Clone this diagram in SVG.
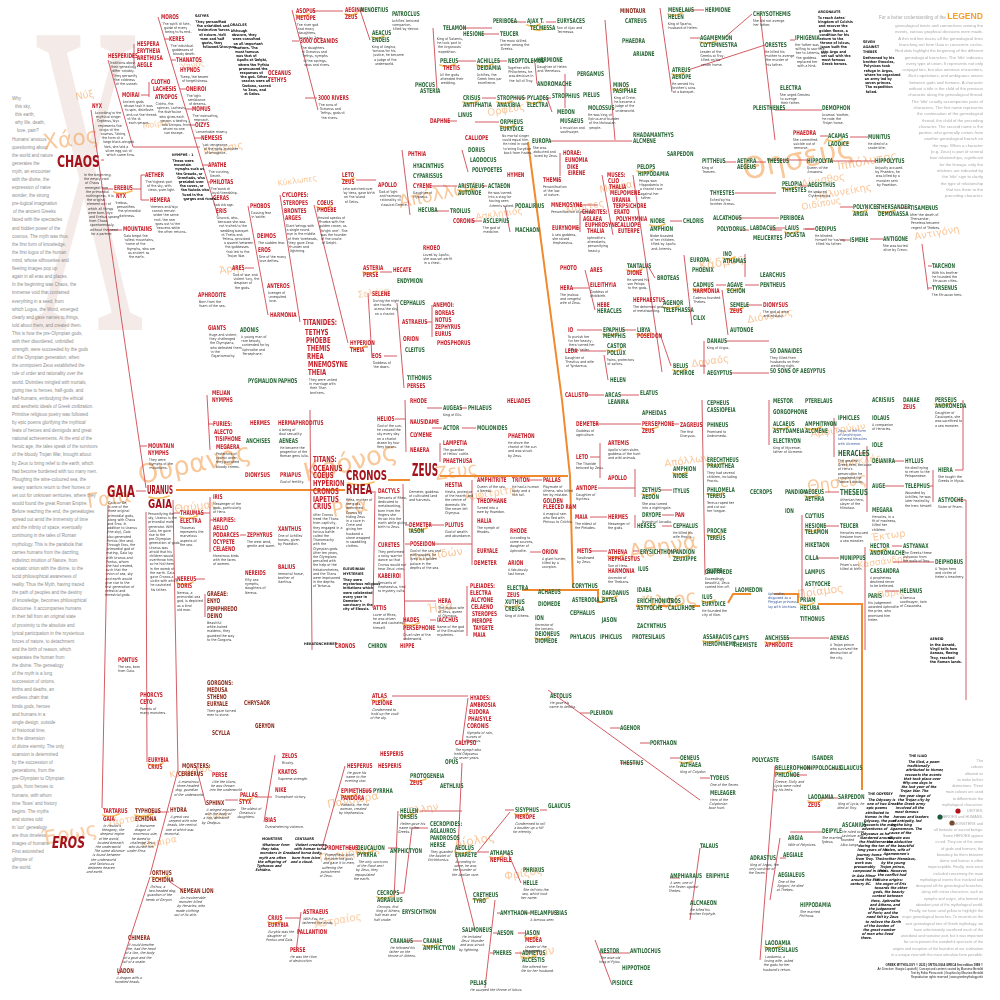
<svg xmlns="http://www.w3.org/2000/svg" width="1000" height="1000" viewBox="0 0 1000 1000">
<defs>
<style>
.n{font-family:"Liberation Sans Narrow","DejaVu Sans Condensed","Liberation Sans",sans-serif;font-weight:700;font-size:6.6px;transform-box:fill-box;transform-origin:0 0;transform:scaleX(.72)}
.n2{font-family:"Liberation Sans Narrow","DejaVu Sans Condensed","Liberation Sans",sans-serif;font-weight:700;font-size:8.4px;transform-box:fill-box;transform-origin:0 0;transform:scaleX(.72)}
.r{fill:#c8232c}
.g{fill:#2c6a3a}
.m{fill:#8e2d1e}
.big{font-family:"Liberation Sans Narrow","DejaVu Sans Condensed","Liberation Sans",sans-serif;font-weight:700;fill:#a4121b}
.d{font-family:"Liberation Sans Narrow","DejaVu Sans Condensed","Liberation Sans",sans-serif;font-size:3.6px;fill:#3a3a3a}
.kb{font-family:"Liberation Sans Narrow","DejaVu Sans Condensed","Liberation Sans",sans-serif;font-size:3.6px;fill:#111;font-weight:700}
.bl{font-family:"Liberation Sans Narrow","DejaVu Sans Condensed","Liberation Sans",sans-serif;font-size:3.6px;fill:#3b5b9e}
.intro{font-family:"Liberation Sans",Arial,sans-serif;font-size:4.5px;fill:#8c8c8c}
.leg{font-family:"Liberation Sans",Arial,sans-serif;font-size:4.2px;fill:#a8a8a8;text-anchor:end}
.leg2{font-family:"Liberation Sans",Arial,sans-serif;font-size:3.8px;fill:#a8a8a8;text-anchor:end}
.gk{font-family:"DejaVu Sans","Noto Sans",sans-serif;fill:#f39a48;opacity:.55}
.ln{fill:none;stroke:#cf4a52;stroke-width:.9}
.tr{fill:none;stroke:#ef8a2e;stroke-width:2}
.sw{fill:none;stroke:#f4b030;stroke-width:1.7;stroke-linecap:round;opacity:.8}
</style>
</defs>
<rect width="1000" height="1000" fill="#fff"/>

<g id="background-letter" fill="#ecdcd6" opacity=".55" font-family="Liberation Serif,serif">
<text transform="translate(28,330) scale(0.36,1)" font-size="450">Χ</text>
</g>

<g id="intro" class="intro">
<text x="12" y="100"><tspan x="12">Why</tspan><tspan x="15" dy="8.1">this sky,</tspan><tspan x="15" dy="8.1">this earth,</tspan><tspan x="15" dy="8.1">why life, death,</tspan><tspan x="17" dy="8.1">love, pain?</tspan><tspan x="12" dy="8.1">Humans' anxious</tspan><tspan x="12" dy="8.1">questioning about</tspan><tspan x="12" dy="8.1">the world and nature</tspan><tspan x="12" dy="8.1">generates the</tspan><tspan x="12" dy="8.1">myth, an encounter</tspan><tspan x="12" dy="8.1">with the divine, the</tspan><tspan x="12" dy="8.1">expression of naive</tspan><tspan x="12" dy="8.1">wonder, the strong</tspan><tspan x="12" dy="8.1">pre-logical imagination</tspan><tspan x="13" dy="8.1">of the ancient Greeks</tspan><tspan x="12" dy="8.1">faced with the spectacles</tspan><tspan x="12" dy="8.1">and hidden power of the</tspan><tspan x="12" dy="8.1">cosmos. The myth was thus</tspan><tspan x="12" dy="8.1">the first form of knowledge,</tspan><tspan x="12" dy="8.1">the first logos of the human</tspan><tspan x="12" dy="8.1">mind, whose silhouettes and</tspan><tspan x="12" dy="8.1">fleeting images pop up</tspan><tspan x="12" dy="8.1">again in all eras and places.</tspan><tspan x="12" dy="8.1">In the beginning was Chaos, the</tspan><tspan x="12" dy="8.1">immense void that contained</tspan><tspan x="12" dy="8.1">everything in a seed, from</tspan><tspan x="12" dy="8.1">which Logos, the Word, emerged</tspan><tspan x="12" dy="8.1">clearly and gave names to things,</tspan><tspan x="12" dy="8.1">told about them, and created them.</tspan><tspan x="12" dy="8.1">This is how the pre-Olympian gods,</tspan><tspan x="12" dy="8.1">with their disordered, unbridled</tspan><tspan x="12" dy="8.1">strength, were succeeded by the gods</tspan><tspan x="12" dy="8.1">of the Olympian generation, when</tspan><tspan x="12" dy="8.1">the omnipotent Zeus established the</tspan><tspan x="12" dy="8.1">rule of order and rationality over the</tspan><tspan x="12" dy="8.1">world. Divinities mingled with mortals,</tspan><tspan x="12" dy="8.1">giving rise to heroes, half-gods, and</tspan><tspan x="12" dy="8.1">half-humans, embodying the ethical</tspan><tspan x="12" dy="8.1">and aesthetic ideals of Greek civilization.</tspan><tspan x="12" dy="8.1">Primitive religious poetry was followed</tspan><tspan x="12" dy="8.1">by epic poems glorifying the mythical</tspan><tspan x="12" dy="8.1">feats of heroes and demigods and great</tspan><tspan x="12" dy="8.1">national achievements. At the end of the</tspan><tspan x="12" dy="8.1">heroic age, the tales speak of the survivors</tspan><tspan x="12" dy="8.1">of the bloody Trojan War, brought about</tspan><tspan x="12" dy="8.1">by Zeus to bring relief to the earth, which</tspan><tspan x="12" dy="8.1">had become burdened with too many men.</tspan><tspan x="12" dy="8.1">Ploughing the wine-coloured sea, the</tspan><tspan x="13" dy="8.1">weary warriors return to their homes or</tspan><tspan x="12" dy="8.1">set out for unknown territories, where they</tspan><tspan x="12" dy="8.1">would found the great Roman Empire.</tspan><tspan x="12" dy="8.1">Before reaching the end, the genealogies</tspan><tspan x="12" dy="8.1">spread out amid the immensity of time</tspan><tspan x="12" dy="8.1">and the infinity of space, eventually</tspan><tspan x="12" dy="8.1">continuing in the tales of Roman</tspan><tspan x="12" dy="8.1">mythology. This is the parabola that</tspan><tspan x="12" dy="8.1">carries humans from the dazzling,</tspan><tspan x="12" dy="8.1">indistinct intuition of Nature, from</tspan><tspan x="12" dy="8.1">ecstatic union with the divine, to the</tspan><tspan x="12" dy="8.1">lucid philosophical awareness of</tspan><tspan x="12" dy="8.1">reality. Thus the Myth, having traced</tspan><tspan x="12" dy="8.1">the path of peoples and the destiny</tspan><tspan x="12" dy="8.1">of knowledge, becomes philosophical</tspan><tspan x="12" dy="8.1">discourse. It accompanies humans</tspan><tspan x="12" dy="8.1">in their fall from an original state</tspan><tspan x="12" dy="8.1">of proximity to the absolute and</tspan><tspan x="12" dy="8.1">lyrical participation in the mysterious</tspan><tspan x="12" dy="8.1">forces of nature, to detachment</tspan><tspan x="12" dy="8.1">and the birth of reason, which</tspan><tspan x="12" dy="8.1">separates the human from</tspan><tspan x="12" dy="8.1">the divine. The genealogy</tspan><tspan x="12" dy="8.1">of the myth is a long</tspan><tspan x="12" dy="8.1">succession of unions,</tspan><tspan x="12" dy="8.1">births and deaths, an</tspan><tspan x="12" dy="8.1">endless chain that</tspan><tspan x="12" dy="8.1">binds gods, heroes</tspan><tspan x="12" dy="8.1">and humans in a</tspan><tspan x="12" dy="8.1">single design, outside</tspan><tspan x="12" dy="8.1">of historical time,</tspan><tspan x="12" dy="8.1">in the dimension</tspan><tspan x="12" dy="8.1">of divine eternity. The only</tspan><tspan x="12" dy="8.1">scansion is determined</tspan><tspan x="12" dy="8.1">by the succession of</tspan><tspan x="12" dy="8.1">generations, from the</tspan><tspan x="12" dy="8.1">pre-Olympian to Olympian</tspan><tspan x="12" dy="8.1">gods, from heroes to</tspan><tspan x="12" dy="8.1">humans, with whom</tspan><tspan x="12" dy="8.1">time 'flows' and history</tspan><tspan x="12" dy="8.1">begins. The myths</tspan><tspan x="12" dy="8.1">and stories told</tspan><tspan x="12" dy="8.1">in 'our' genealogy</tspan><tspan x="12" dy="8.1">are thus timeless</tspan><tspan x="12" dy="8.1">images of humans.</tspan><tspan x="12" dy="8.1">First astonished</tspan><tspan x="12" dy="8.1">glimpse of</tspan><tspan x="12" dy="8.1">the world.</tspan></text>
</g>

<g id="ghost-names" class="gk">
<text transform="translate(44,150) rotate(-8)" font-size="22">Χάος</text>
<text transform="translate(76,100) rotate(-10)" font-size="10">Νύξ</text>
<text transform="translate(143,129) rotate(-10)" font-size="8">Μοίραι</text>
<text transform="translate(180,70) rotate(-10)" font-size="8">Ύπνος</text>
<text transform="translate(204,155) rotate(-10)" font-size="10">Νέμεσις</text>
<text transform="translate(88,508) rotate(-8)" font-size="20">Γαῖα</text>
<text transform="translate(140,484) rotate(-12)" font-size="26">Ουρανός</text>
<text transform="translate(175,513) rotate(-8)" font-size="11">Θαύμας</text>
<text transform="translate(306,482) rotate(-14)" font-size="26">Κρόνος</text>
<text transform="translate(333,517) rotate(-10)" font-size="20">Ρέα</text>
<text transform="translate(436,480) rotate(-8)" font-size="18">Ζευς</text>
<text transform="translate(43,845) rotate(-10)" font-size="20">Έρως</text>
<text transform="translate(220,274) rotate(-10)" font-size="10">Άρης</text>
<text transform="translate(278,186) rotate(-8)" font-size="8">Κύκλωπες</text>
<text transform="translate(358,298) rotate(-8)" font-size="9">Σελήνη</text>
<text transform="translate(400,208) rotate(-12)" font-size="18">Απόλλων</text>
<text transform="translate(488,116) rotate(-10)" font-size="10">Ορφεύς</text>
<text transform="translate(600,193) rotate(-10)" font-size="10">Μούσαι</text>
<text transform="translate(565,213) rotate(-10)" font-size="10">Χάριτες</text>
<text transform="translate(476,220) rotate(-8)" font-size="9">Ασκληπιός</text>
<text transform="translate(630,560) rotate(-10)" font-size="22">Αθηνά</text>
<text transform="translate(645,612) rotate(-10)" font-size="20">Ἴλιος</text>
<text transform="translate(665,467) rotate(-8)" font-size="10">Απόλλων</text>
<text transform="translate(465,500) rotate(-8)" font-size="10">Αμφιτρίτη</text>
<text transform="translate(410,562) rotate(-8)" font-size="11">Ποσειδών</text>
<text transform="translate(428,613) rotate(-8)" font-size="12">Ήρα</text>
<text transform="translate(838,467) rotate(-8)" font-size="10">Ηρακλής</text>
<text transform="translate(808,492) rotate(-8)" font-size="16">Θησεύς</text>
<text transform="translate(872,541) rotate(-8)" font-size="10">Έκτωρ</text>
<text transform="translate(858,568) rotate(-8)" font-size="9">Κασσάνδρα</text>
<text transform="translate(798,598) rotate(-8)" font-size="11">Πρίαμος</text>
<text transform="translate(878,598) rotate(-8)" font-size="9">Πάρις</text>
<text transform="translate(811,437) rotate(-8)" font-size="10">Αμφιτρύων</text>
<text transform="translate(802,187) rotate(-10)" font-size="10">Αίγισθος</text>
<text transform="translate(838,170) rotate(-10)" font-size="12">Ιππόλυτος</text>
<text transform="translate(815,200) rotate(-10)" font-size="10">Πολυνείκης</text>
<text transform="translate(915,240) rotate(-10)" font-size="10">Αντιγόνη</text>
<text transform="translate(802,210) rotate(-10)" font-size="9">Οιδίπους</text>
<text transform="translate(745,180) rotate(-12)" font-size="30">Θησεύς</text>
<text transform="translate(700,270) rotate(-10)" font-size="12">Κάδμος</text>
<text transform="translate(748,323) rotate(-10)" font-size="10">Διόνυσος</text>
<text transform="translate(692,367) rotate(-8)" font-size="10">Δαναός</text>
<text transform="translate(320,862) rotate(-10)" font-size="11">Προμηθεύς</text>
<text transform="translate(328,808) rotate(-10)" font-size="11">Πανδώρα</text>
<text transform="translate(408,815) rotate(-10)" font-size="10">Έλλην</text>
<text transform="translate(455,848) rotate(-10)" font-size="12">Αίολος</text>
<text transform="translate(315,928) rotate(-10)" font-size="10">Αστραίος</text>
<text transform="translate(170,778) rotate(-10)" font-size="9">Κέρβερος</text>
<text transform="translate(142,848) rotate(-10)" font-size="9">Χίμαιρα</text>
<text transform="translate(208,820) rotate(-10)" font-size="8">Σφίγξ</text>
<text transform="translate(108,826) rotate(-10)" font-size="9">Τάρταρος</text>
<text transform="translate(505,880) rotate(-10)" font-size="11">Φρίξος</text>
<text transform="translate(520,960) rotate(-10)" font-size="12">Ιάσων</text>
</g>

<g id="connectors">
<path class="tr" d="M176,490 H345 M388,480 H410 M440,476 H568 M528,142 L562,400 L570,476 L573,588 M522,590 H598 V602 H603 M636,606 H640 M658,606 H668 M690,606 H700 M728,603 L733,594 H751 M774,594 H798 V603 M818,604 H862 V790"/>
<path class="ln" d="M136,491 H146 M91,110 L146,488 M101,160 H104 M103,189 H113 M108,230 H122 M140,446 H147 M146,512 L147,762 M108,505 L102,808"/>
<path class="ln" d="M108,60 L133,147 H200 M158,17 L218,216 M164,39 H169 M171,60 H176 M180,89 H186 M186,109 H192 M190,125 H195 M194,138 H201 M202,165 H208 M207,182 H210 M212,198 H213 M131,56 H134 M134,44 V66 M141,95 H149 M149,82 V97 M133,189 H141 M141,175 V200 H149 M141,175 H145"/>
<path class="ln" d="M173,500 L178,770 M173,513 H180 M175,579 H177 M196,579 H205 M205,594 V617 M207,395 L210,450 M208,424 H213 M210,497 V552 M200,513 H210 M210,520 H213 M240,535 H246"/>
<path class="ln" d="M248,206 L268,315 M245,268 H254 M280,195 L300,322 M314,205 L348,343 M356,180 H376 M380,272 H392 M368,293 L372,358 M363,347 H368 M397,303 L404,388 M384,356 H397 M425,322 H432 M432,305 V337 M310,410 L312,650 M403,484 L405,640 M405,525 H409 M405,544 H410 M405,601 H436 M375,493 L373,608 M366,492 H376 M405,400 L406,452 M395,419 H405 M427,408 H442 M460,408 H467 M432,428 H442 M462,428 H476 M440,443 V462 M472,480 L472,565 M433,544 H472 M467,586 V636 M428,525 H444 M430,620 H436 M530,480 H542 M530,552 H541"/>
<path class="ln" d="M292,10 L318,110 M292,41 H299 M305,98 H317 M312,11 H343 M360,10 L370,40 M433,28 L437,90 M462,28 H492 M512,22 H526 M546,22 H556 M481,34 H499 M458,61 H476 M497,61 H507 M531,61 H536 M535,63 L537,84 M565,74 V108 M482,98 H496 M516,98 H526 M545,98 H551 M547,98 L552,112 M475,122 H499 M446,121 H457 M605,20 L615,140 M550,141 H632 M402,150 L410,215 M462,150 L468,172 M430,186 H457 M480,186 H487 M435,211 H449 M472,221 H482 M505,206 L510,232 M556,180 H560 M560,153 V176 M576,205 H598 M602,175 L613,235 M576,228 H580 M580,212 V232"/>
<path class="ln" d="M660,8 L672,92 M686,10 H704 M690,38 H700 M724,38 L752,14 M688,70 L765,45 M633,175 L662,372 M725,162 H736 M755,162 H766 M735,193 H776 M735,218 H779 M670,221 H682 M740,230 H749 M770,230 H782 M803,229 H814 M745,254 V277 M684,255 L692,325 M716,285 H726 M745,285 H759 M722,290 L728,335 M745,305 H762 M648,266 L655,278 M577,330 H602 M622,330 H636 M660,334 L671,366 M700,366 H706 M704,341 V374 M725,341 H769 M730,373 H769 M580,351 H606 M604,355 L608,380 M572,288 H589 M585,270 L595,310 M585,395 H604 M620,395 H639 M760,14 L775,140 M790,40 H795 M775,110 H822 M820,136 H828 M850,137 H868 M767,160 H807 M830,161 H875 M800,186 H808 M840,207 H853 M875,207 H878 M900,208 H910 M770,228 H785 M805,229 H815 M840,240 H850 M870,239 H883 M922,244 L928,290 M928,266 H932 M928,288 H932"/>
<path class="ln" d="M595,424 H641 M672,424 H679 M590,457 H600 M600,443 V478 M598,488 H635 M635,469 V497 M660,490 H672 M590,517 H607 M635,515 V528 M662,515 H674 M662,526 H672 M590,551 H607 M633,551 H639 M670,551 H672 M702,400 L705,575 M769,400 V445 M826,424 H834 M834,418 V457 M860,453 H867 M867,446 V512 M893,461 H904 M885,486 H904 M929,486 H933 M933,470 V502 M963,400 V470 H955 M955,500 H966 V700 M800,492 H804 M825,492 H839 M802,515 V600 M825,526 H839 M817,558 H839 M865,547 V650 M892,546 H902 M893,562 H934 M885,591 H899 M785,638 H829"/>
<path class="ln" d="M345,766 L322,848 M364,791 H372 M348,848 H356 M388,848 H398 M398,811 L394,900 M420,811 H462 M462,763 L458,850 M398,893 H404 L412,828 H428 M406,941 H422 M285,918 H300 M301,912 L296,952 M275,755 L264,822 M255,797 H272 M455,850 L475,930 M392,696 H468 M468,698 L462,743 M475,855 L510,812 M505,810 H514 M540,810 H547 M478,852 H489 M508,853 L521,883 M495,900 L485,988 M497,913 H500 M493,933 H497 M490,953 H493 M518,933 H525 M515,953 H522 M523,913 H530 M552,913 H555"/>
<path class="ln" d="M548,690 L700,800 M580,713 H590 M610,728 H620 M640,743 H650 M670,758 H680 M700,778 H710 M640,763 H620 M700,848 L690,920 M670,878 H680 M600,953 H630 M595,940 L612,985"/>
<path class="ln" d="M178,770 L150,875 M196,766 L206,805 M152,812 H169 M150,877 L118,975 M170,882 L182,890 M225,800 H238"/>
<path class="ln" d="M775,766 L760,960 M790,775 H807 M800,768 H812 M830,769 H840 M820,798 H838 M790,832 H822 M780,838 L770,900 M780,858 H786"/>
</g>

<g id="swooshes" class="sw">
<path d="M114,192 q8,3 18,-1"/><path d="M149,497 q9,3 20,-1"/><path d="M180,517 q8,3 17,-1"/><path d="M177,583 q8,3 16,-1"/>
<path d="M103,815 q8,3 16,-1"/><path d="M135,815 q9,3 18,-1"/><path d="M152,877 q8,3 16,-1"/><path d="M148,764 q8,3 15,-1"/>
<path d="M348,483 q12,4 26,-1"/><path d="M317,207 q7,3 14,-1"/><path d="M342,179 q6,3 12,-1"/><path d="M363,272 q7,3 14,-1"/><path d="M350,347 q8,3 16,-1"/>
<path d="M409,529 q9,3 18,-1"/><path d="M403,624 q8,3 16,-1"/><path d="M440,65 q8,3 15,-1"/><path d="M477,65 q8,3 16,-1"/><path d="M463,102 q8,3 15,-1"/>
<path d="M497,102 q8,3 15,-1"/><path d="M527,102 q7,3 14,-1"/><path d="M500,126 q8,3 15,-1"/><path d="M613,89 q7,3 14,-1"/><path d="M458,190 q8,3 15,-1"/>
<path d="M527,25 q7,3 13,-1"/><path d="M637,171 q8,3 16,-1"/><path d="M627,270 q8,3 15,-1"/><path d="M650,225 q8,3 15,-1"/><path d="M723,258 q6,3 12,-1"/>
<path d="M693,289 q8,3 16,-1"/><path d="M727,289 q7,3 14,-1"/><path d="M730,309 q7,3 13,-1"/><path d="M663,307 q8,3 16,-1"/><path d="M603,334 q8,3 15,-1"/>
<path d="M637,334 q7,3 14,-1"/><path d="M607,350 q7,3 14,-1"/><path d="M673,370 q7,3 13,-1"/><path d="M642,428 q8,3 16,-1"/><path d="M673,473 q7,3 14,-1"/>
<path d="M642,494 q7,3 13,-1"/><path d="M707,464 q8,3 17,-1"/><path d="M707,494 q8,3 16,-1"/><path d="M707,535 q7,3 14,-1"/><path d="M608,556 q8,3 16,-1"/>
<path d="M673,556 q8,3 16,-1"/><path d="M602,597 q8,3 15,-1"/><path d="M637,605 q9,3 18,-1"/><path d="M668,605 q7,3 14,-1"/><path d="M702,601 q7,3 13,-1"/>
<path d="M505,606 q7,3 13,-1"/><path d="M535,638 q7,3 14,-1"/><path d="M703,641 q8,3 16,-1"/><path d="M773,428 q8,3 16,-1"/><path d="M805,428 q8,3 16,-1"/>
<path d="M805,496 q7,3 13,-1"/><path d="M805,530 q7,3 14,-1"/><path d="M800,604 q7,3 14,-1"/><path d="M870,550 q8,3 16,-1"/><path d="M935,404 q8,3 16,-1"/>
<path d="M765,642 q8,3 15,-1"/><path d="M828,140 q7,3 14,-1"/><path d="M782,188 q7,3 14,-1"/><path d="M853,211 q7,3 14,-1"/><path d="M878,211 q8,3 17,-1"/>
<path d="M785,232 q7,3 13,-1"/><path d="M341,795 q8,3 16,-1"/><path d="M357,852 q8,3 16,-1"/><path d="M410,780 q8,3 16,-1"/><path d="M400,815 q7,3 13,-1"/>
<path d="M377,897 q8,3 15,-1"/><path d="M423,945 q8,3 15,-1"/><path d="M455,852 q8,3 15,-1"/><path d="M473,899 q8,3 15,-1"/><path d="M268,922 q7,3 13,-1"/>
<path d="M775,772 q8,3 16,-1"/><path d="M808,801 q7,3 14,-1"/><path d="M765,947 q8,3 16,-1"/><path d="M240,799 q7,3 12,-1"/><path d="M533,29 q7,3 13,-1"/>
<path d="M296,15 q7,3 13,-1"/><path d="M345,14 q6,3 12,-1"/><path d="M372,37 q6,3 12,-1"/><path d="M668,14 q7,3 14,-1"/><path d="M700,42 q8,3 16,-1"/>
<path d="M672,74 q6,3 12,-1"/><path d="M372,700 q6,3 12,-1"/><path d="M515,814 q7,3 13,-1"/><path d="M490,857 q7,3 13,-1"/><path d="M525,937 q6,3 12,-1"/>
<path d="M522,957 q7,3 13,-1"/><path d="M680,762 q6,3 12,-1"/>
</g>

<g id="nodes">
<g id="chaos"><text class="big" x="57" y="167" font-size="16" textLength="43" lengthAdjust="spacingAndGlyphs">CHAOS</text>
<text class="d" x="84" y="176"><tspan x="84">In the beginning,</tspan><tspan x="84" dy="4.2">the empty void</tspan><tspan x="85" dy="4.2">of Chaos</tspan><tspan x="85" dy="4.2">emerged from</tspan><tspan x="86" dy="4.2">the primordial</tspan><tspan x="86" dy="4.2">nothingness. It is</tspan><tspan x="87" dy="4.2">the original</tspan><tspan x="87" dy="4.2">element out of</tspan><tspan x="88" dy="4.2">which all things</tspan><tspan x="88" dy="4.2">were born. Nyx</tspan><tspan x="89" dy="4.2">and Erebus sprang</tspan><tspan x="89" dy="4.2">from Chaos</tspan><tspan x="90" dy="4.2">spontaneously,</tspan><tspan x="90" dy="4.2">without the need</tspan><tspan x="91" dy="4.2">for a partner.</tspan></text></g>
<g id="nyx"><text class="n r" x="92" y="108">NYX</text>
<text class="d" transform="translate(95,114) skewX(16)"><tspan x="0">According to the</tspan><tspan x="0" dy="4.2">mythical singer</tspan><tspan x="0" dy="4.2">Orpheus, Nyx</tspan><tspan x="0" dy="4.2">represents the</tspan><tspan x="0" dy="4.2">origin of the</tspan><tspan x="0" dy="4.2">cosmos. Taking</tspan><tspan x="0" dy="4.2">the form of a</tspan><tspan x="0" dy="4.2">large black-winged</tspan><tspan x="0" dy="4.2">bird, she laid a</tspan><tspan x="0" dy="4.2">silver egg out of</tspan><tspan x="0" dy="4.2">which came Eros.</tspan></text></g>
<g id="hesperides"><text class="n r" x="108" y="58">HESPERIDES</text>
<text class="d" transform="translate(110,64) skewX(16)"><tspan x="0">Traditions about</tspan><tspan x="0" dy="4.2">their genealogy</tspan><tspan x="0" dy="4.2">differ notably.</tspan><tspan x="0" dy="4.2">They personify</tspan><tspan x="0" dy="4.2">the coldness</tspan><tspan x="0" dy="4.2">of the sunset.</tspan></text></g>
<g id="hespera"><text class="n r" x="137" y="46">HESPERA</text><text class="n r" x="137" y="53">ERYTHEIA</text><text class="n r" x="137" y="60">ARETHUSA</text><text class="n r" x="137" y="67">AEGLE</text></g>
<g id="moirai"><text class="n r" x="122" y="97">MOIRAI</text>
<text class="d" transform="translate(123,103) skewX(16)"><tspan x="0">Ancient gods</tspan><tspan x="0" dy="4.2">whose task it was</tspan><tspan x="0" dy="4.2">to spin, distribute</tspan><tspan x="0" dy="4.2">and cut the thread</tspan><tspan x="0" dy="4.2">of life of</tspan><tspan x="0" dy="4.2">each person.</tspan></text></g>
<g id="clotho"><text class="n r" x="151" y="84">CLOTHO</text><text class="n r" x="153" y="91.5">LACHESIS</text><text class="n r" x="155" y="99">ATROPOS</text>
<text class="d" transform="translate(156,105) skewX(16)"><tspan x="0">Clotho, the</tspan><tspan x="0" dy="4.2">spinner, Lachesis,</tspan><tspan x="0" dy="4.2">the distributor</tspan><tspan x="0" dy="4.2">who gives each</tspan><tspan x="0" dy="4.2">person a destiny,</tspan><tspan x="0" dy="4.2">and Atropos, from</tspan><tspan x="0" dy="4.2">whom no one</tspan><tspan x="0" dy="4.2">can escape.</tspan></text></g>
<g id="moros"><text class="n r" x="161" y="19">MOROS</text><text class="d" transform="translate(163,25) skewX(16)"><tspan x="0">The spirit of fate,</tspan><tspan x="0" dy="4.2">guide of every</tspan><tspan x="0" dy="4.2">being to its end.</tspan></text></g>
<g id="keres"><text class="n r" x="169" y="41">KERES</text><text class="d" transform="translate(171,47) skewX(16)"><tspan x="0">The individual</tspan><tspan x="0" dy="4.2">goddesses of</tspan><tspan x="0" dy="4.2">bloody death.</tspan></text></g>
<g id="thanatos"><text class="n r" x="176" y="62">THANATOS</text><text class="n r" x="180" y="72">HYPNOS</text><text class="d" transform="translate(181,78) skewX(16)"><tspan x="0">Sleep, the bearer</tspan><tspan x="0" dy="4.2">of forgetfulness.</tspan></text></g>
<g id="oneiroi"><text class="n r" x="186" y="91">ONEIROI</text><text class="d" transform="translate(187,97) skewX(16)"><tspan x="0">The light</tspan><tspan x="0" dy="4.2">semblance</tspan><tspan x="0" dy="4.2">of dreams.</tspan></text></g>
<g id="momus"><text class="n r" x="192" y="111">MOMUS</text><text class="d" transform="translate(193,117) skewX(16)"><tspan x="0">The insinuating</tspan><tspan x="0" dy="4.2">reproach.</tspan></text></g>
<g id="oizys"><text class="n r" x="195" y="127">OIZYS</text><text class="d" transform="translate(196,133) skewX(16)"><tspan x="0">Lamentable misery.</tspan></text></g>
<g id="nemesis"><text class="n r" x="201" y="140">NEMESIS</text><text class="d" transform="translate(203,146) skewX(16)"><tspan x="0">Just vengeance</tspan><tspan x="0" dy="4.2">of the gods, punisher</tspan><tspan x="0" dy="4.2">of arrogance.</tspan></text></g>
<g id="apathe"><text class="n r" x="208" y="167">APATHE</text><text class="d" transform="translate(209,173) skewX(16)"><tspan x="0">The cunning</tspan><tspan x="0" dy="4.2">Deceit.</tspan></text></g>
<g id="philotas"><text class="n r" x="210" y="184">PHILOTAS</text><text class="d" transform="translate(211,190) skewX(16)"><tspan x="0">The bond of</tspan><tspan x="0" dy="4.2">loyal friendship.</tspan></text></g>
<g id="geras"><text class="n r" x="213" y="200">GERAS</text><text class="d" transform="translate(214,206) skewX(16)"><tspan x="0">Sad old age.</tspan></text></g>
<g id="eris"><text class="n r" x="216" y="213">ERIS</text><text class="d" transform="translate(217,219) skewX(16)"><tspan x="0">Discord, who,</tspan><tspan x="0" dy="4.2">because she was</tspan><tspan x="0" dy="4.2">not invited to the</tspan><tspan x="0" dy="4.2">wedding banquet</tspan><tspan x="0" dy="4.2">of Thetis and</tspan><tspan x="0" dy="4.2">Peleus, provoked</tspan><tspan x="0" dy="4.2">a quarrel between</tspan><tspan x="0" dy="4.2">the goddesses</tspan><tspan x="0" dy="4.2">that led to the</tspan><tspan x="0" dy="4.2">Trojan War.</tspan></text></g>
<g id="aether"><text class="n r" x="145" y="177">AETHER</text><text class="d" transform="translate(146,183) skewX(16)"><tspan x="0">The highest part</tspan><tspan x="0" dy="4.2">of the sky, with</tspan><tspan x="0" dy="4.2">clean, pure light.</tspan></text></g>
<g id="erebus"><text class="n r" x="114" y="190">EREBUS</text><text class="n r" x="116" y="198">NYX</text><text class="d" transform="translate(116,204) skewX(16)"><tspan x="0">Erebus,</tspan><tspan x="0" dy="4.2">personifies</tspan><tspan x="0" dy="4.2">the primordial</tspan><tspan x="0" dy="4.2">darkness.</tspan></text></g>
<g id="hemera"><text class="n r" x="150" y="202">HEMERA</text><text class="d" transform="translate(151,208) skewX(16)"><tspan x="0">Hemera and Nyx</tspan><tspan x="0" dy="4.2">cannot remain</tspan><tspan x="0" dy="4.2">under the same</tspan><tspan x="0" dy="4.2">roof: the one</tspan><tspan x="0" dy="4.2">goes out to the</tspan><tspan x="0" dy="4.2">heavens while</tspan><tspan x="0" dy="4.2">the other returns.</tspan></text></g>
<g id="mountains"><text class="n r" x="123" y="231">MOUNTAINS</text><text class="d" transform="translate(124,237) skewX(14)"><tspan x="0">Gaia begot the</tspan><tspan x="0" dy="4.2">tallest mountains,</tspan><tspan x="0" dy="4.2">home of the</tspan><tspan x="0" dy="4.2">Nymphs, who are</tspan><tspan x="0" dy="4.2">as ancient as</tspan><tspan x="0" dy="4.2">the earth.</tspan></text></g>
<g id="nymphs-1"><text class="kb" x="172" y="156" font-size="4.4">NYMPHS - 1</text><text class="kb" transform="translate(173,162) skewX(16)"><tspan x="0">These were</tspan><tspan x="0" dy="4.2">mountain</tspan><tspan x="0" dy="4.2">nymphs such as</tspan><tspan x="0" dy="4.2">the Oreads, or</tspan><tspan x="0" dy="4.2">Orestiads, who</tspan><tspan x="0" dy="4.2">presided over</tspan><tspan x="0" dy="4.2">the caves, or</tspan><tspan x="0" dy="4.2">the Naiads who</tspan><tspan x="0" dy="4.2">lived in the</tspan><tspan x="0" dy="4.2">gorges and rivers.</tspan></text></g>
<g id="satyrs"><text class="kb" x="195" y="17" font-size="4.4">SATYRS</text><text class="kb" transform="translate(196,23) skewX(16)"><tspan x="0">They personified</tspan><tspan x="0" dy="4.2">the unbridled and</tspan><tspan x="0" dy="4.2">instinctive forces</tspan><tspan x="0" dy="4.2">of nature. Half</tspan><tspan x="0" dy="4.2">men and half</tspan><tspan x="0" dy="4.2">goats, they</tspan><tspan x="0" dy="4.2">followed Dionysus.</tspan></text></g>
<g id="oracles"><text class="kb" x="230" y="26" font-size="4.4">ORACLES</text><text class="kb" transform="translate(231,32) skewX(12)"><tspan x="0">Although</tspan><tspan x="0" dy="4.2">obscure, they</tspan><tspan x="0" dy="4.2">were consulted</tspan><tspan x="0" dy="4.2">on all important</tspan><tspan x="0" dy="4.2">matters. The</tspan><tspan x="0" dy="4.2">most famous</tspan><tspan x="0" dy="4.2">was that of</tspan><tspan x="0" dy="4.2">Apollo at Delphi,</tspan><tspan x="0" dy="4.2">where the Pythia</tspan><tspan x="0" dy="4.2">pronounced the</tspan><tspan x="0" dy="4.2">responses of</tspan><tspan x="0" dy="4.2">the god. Other</tspan><tspan x="0" dy="4.2">oracles were at</tspan><tspan x="0" dy="4.2">Dodona, sacred</tspan><tspan x="0" dy="4.2">to Zeus, and</tspan><tspan x="0" dy="4.2">at Delos.</tspan></text></g>
<g id="oceanus"><text class="n r" x="268" y="75">OCEANUS</text><text class="n r" x="268" y="82">TETHYS</text></g>
<g id="asopus"><text class="n r" x="296" y="13">ASOPUS</text><text class="n r" x="296" y="20">METOPE</text><text class="d" transform="translate(297,26) skewX(12)"><tspan x="0">The river god</tspan><tspan x="0" dy="4.2">had many</tspan><tspan x="0" dy="4.2">daughters,</tspan><tspan x="0" dy="4.2">loved by Zeus.</tspan></text></g>
<g id="oceanids"><text class="n r" x="300" y="43">3000 OCEANIDS</text><text class="d" transform="translate(301,49) skewX(12)"><tspan x="0">The daughters</tspan><tspan x="0" dy="4.2">of Oceanus and</tspan><tspan x="0" dy="4.2">Tethys, nymphs</tspan><tspan x="0" dy="4.2">of the springs,</tspan><tspan x="0" dy="4.2">seas and rivers.</tspan></text></g>
<g id="rivers"><text class="n r" x="318" y="100">3000 RIVERS</text><text class="d" transform="translate(319,106) skewX(12)"><tspan x="0">The sons of</tspan><tspan x="0" dy="4.2">Oceanus and</tspan><tspan x="0" dy="4.2">Tethys, gods of</tspan><tspan x="0" dy="4.2">the rivers.</tspan></text></g>
<g id="aegina"><text class="n r" x="345" y="12">AEGINA</text><text class="n r" x="345" y="19">ZEUS</text><text class="n g" x="372" y="35">AEACUS</text><text class="n g" x="372" y="42">ENDEIS</text>
<text class="d" transform="translate(372,48) skewX(10)"><tspan x="0">King of Aegina,</tspan><tspan x="0" dy="4.2">famous for his</tspan><tspan x="0" dy="4.2">justice, he became</tspan><tspan x="0" dy="4.2">a judge of the</tspan><tspan x="0" dy="4.2">underworld.</tspan></text></g>

<g id="gaia"><text class="big" x="107" y="497" font-size="16" textLength="28" lengthAdjust="spacingAndGlyphs">GAIA</text>
<text class="d" transform="translate(108,504) skewX(-2)"><tspan x="0">Gaia, or Ge,</tspan><tspan x="0" dy="4.2">is one of the</tspan><tspan x="0" dy="4.2">three original</tspan><tspan x="0" dy="4.2">primordial gods,</tspan><tspan x="0" dy="4.2">along with Chaos</tspan><tspan x="0" dy="4.2">and Eros. In</tspan><tspan x="0" dy="4.2">addition to Uranus</tspan><tspan x="0" dy="4.2">(the sky), Gaia</tspan><tspan x="0" dy="4.2">also generated</tspan><tspan x="0" dy="4.2">Pontus (the sea).</tspan><tspan x="0" dy="4.2">Through Eros, the</tspan><tspan x="0" dy="4.2">primordial god of</tspan><tspan x="0" dy="4.2">mating, Gaia lay</tspan><tspan x="0" dy="4.2">with Uranus and</tspan><tspan x="0" dy="4.2">Pontus, whom</tspan><tspan x="0" dy="4.2">she had created,</tspan><tspan x="0" dy="4.2">such that the</tspan><tspan x="0" dy="4.2">union of sea, sky</tspan><tspan x="0" dy="4.2">and earth would</tspan><tspan x="0" dy="4.2">give rise to the</tspan><tspan x="0" dy="4.2">first generation of</tspan><tspan x="0" dy="4.2">celestial and</tspan><tspan x="0" dy="4.2">terrestrial gods.</tspan></text></g>
<g id="uranus"><text class="big" x="147" y="494" font-size="13" textLength="26" lengthAdjust="spacingAndGlyphs">URANUS</text><text class="big" x="148" y="508" font-size="13" textLength="24" lengthAdjust="spacingAndGlyphs">GAIA</text>
<text class="d" transform="translate(148,515) skewX(2)"><tspan x="0">Personifying the</tspan><tspan x="0" dy="4.2">sky, Uranus is the</tspan><tspan x="0" dy="4.2">primordial male</tspan><tspan x="0" dy="4.2">generator. With</tspan><tspan x="0" dy="4.2">Gaia, he gave</tspan><tspan x="0" dy="4.2">rise to the</tspan><tspan x="0" dy="4.2">pre-Olympian</tspan><tspan x="0" dy="4.2">generation of gods.</tspan><tspan x="0" dy="4.2">Uranus was</tspan><tspan x="0" dy="4.2">afraid that his</tspan><tspan x="0" dy="4.2">children would</tspan><tspan x="0" dy="4.2">overthrow him,</tspan><tspan x="0" dy="4.2">so he hid them</tspan><tspan x="0" dy="4.2">in the womb of</tspan><tspan x="0" dy="4.2">the earth. Gaia</tspan><tspan x="0" dy="4.2">gave Cronos a</tspan><tspan x="0" dy="4.2">sickle with which</tspan><tspan x="0" dy="4.2">he castrated</tspan><tspan x="0" dy="4.2">his father.</tspan></text></g>
<g id="mountain-nymphs"><text class="n r" x="148" y="448">MOUNTAIN</text><text class="n r" x="148" y="455">NYMPHS</text><text class="d" transform="translate(149,461) skewX(4)"><tspan x="0">They were</tspan><tspan x="0" dy="4.2">Nymphs of the</tspan><tspan x="0" dy="4.2">mountains.</tspan></text></g>
<g id="melian"><text class="n r" x="212" y="395">MELIAN</text><text class="n r" x="212" y="402">NYMPHS</text></g>
<g id="furies"><text class="n r" x="213" y="426">FURIES:</text><text class="n r" x="214" y="434">ALECTO</text><text class="n r" x="215" y="441">TISIPHONE</text><text class="n r" x="216" y="449">MEGAERA</text><text class="d" transform="translate(216,455)"><tspan x="0">Protectors of</tspan><tspan x="0" dy="4.2">cosmic order,</tspan><tspan x="0" dy="4.2">they punished</tspan><tspan x="0" dy="4.2">bloody crimes.</tspan></text></g>
<g id="iris"><text class="n r" x="213" y="499">IRIS</text><text class="d" x="213" y="505"><tspan x="213">Messenger of the</tspan><tspan x="213" dy="4.2">gods, particularly</tspan><tspan x="213" dy="4.2">of Hera.</tspan></text></g>
<g id="harpies"><text class="n r" x="213" y="522">HARPIES:</text><text class="n r" x="213" y="530">AELLO</text><text class="n r" x="213" y="537">PODARCES</text><text class="n r" x="213" y="544">OCYPETE</text><text class="n r" x="213" y="551">CELAENO</text><text class="d" x="213" y="557"><tspan x="213">Monstrous birds</tspan><tspan x="213" dy="4.2">with the faces</tspan><tspan x="213" dy="4.2">of women.</tspan></text></g>
<g id="thaumas"><text class="n r" x="180" y="515">THAUMAS</text><text class="n r" x="180" y="523">ELECTRA</text><text class="d" x="180" y="529"><tspan x="180">Thaumas</tspan><tspan x="180" dy="4.2">represents the</tspan><tspan x="180" dy="4.2">marvelous</tspan><tspan x="180" dy="4.2">aspects of</tspan><tspan x="180" dy="4.2">the sea.</tspan></text></g>
<g id="nereus"><text class="n r" x="177" y="581">NEREUS</text><text class="n r" x="177" y="588">DORIS</text><text class="d" x="177" y="594"><tspan x="177">Nereus, a</tspan><tspan x="177" dy="4.2">primordial sea</tspan><tspan x="177" dy="4.2">god, is depicted</tspan><tspan x="177" dy="4.2">as a kind</tspan><tspan x="177" dy="4.2">old man.</tspan></text></g>
<g id="graeae"><text class="n m" x="207" y="596">GRAEAE:</text><text class="n m" x="207" y="603">ENYO</text><text class="n m" x="207" y="611">PEMPHREDO</text><text class="n m" x="207" y="618">DEINO</text><text class="d" x="207" y="624"><tspan x="207">Beautiful</tspan><tspan x="207" dy="4.2">white-haired</tspan><tspan x="207" dy="4.2">maidens, they</tspan><tspan x="207" dy="4.2">guarded the way</tspan><tspan x="207" dy="4.2">to the Gorgons.</tspan></text></g>
<g id="zephyrus"><text class="n r" x="247" y="537">ZEPHYRUS</text><text class="d" x="247" y="543"><tspan x="247">The west wind,</tspan><tspan x="247" dy="4.2">gentle and warm.</tspan></text></g>
<g id="xanthus"><text class="n r" x="278" y="531">XANTHUS</text><text class="d" x="278" y="537"><tspan x="278">One of Achilles'</tspan><tspan x="278" dy="4.2">horses, given</tspan><tspan x="278" dy="4.2">by Poseidon.</tspan></text></g>
<g id="balius"><text class="n r" x="278" y="569">BALIUS</text><text class="d" x="278" y="575"><tspan x="278">Immortal horse,</tspan><tspan x="278" dy="4.2">brother of</tspan><tspan x="278" dy="4.2">Xanthus.</tspan></text></g>
<g id="nereids"><text class="n r" x="245" y="575">NEREIDS</text><text class="d" x="245" y="581"><tspan x="245">Fifty sea</tspan><tspan x="245" dy="4.2">nymphs,</tspan><tspan x="245" dy="4.2">daughters of</tspan><tspan x="245" dy="4.2">Nereus.</tspan></text></g>
<g id="pontus"><text class="n r" x="118" y="662">PONTUS</text><text class="d" x="118" y="668"><tspan x="118">The sea, born</tspan><tspan x="118" dy="4.2">from Gaia.</tspan></text></g>
<g id="phorcys"><text class="n r" x="140" y="697">PHORCYS</text><text class="n r" x="140" y="704">CETO</text><text class="d" x="140" y="710"><tspan x="140">Parents of</tspan><tspan x="140" dy="4.2">many monsters.</tspan></text></g>
<g id="gorgons"><text class="n m" x="207" y="685">GORGONS:</text><text class="n m" x="207" y="692">MEDUSA</text><text class="n m" x="207" y="699">STHENO</text><text class="n m" x="207" y="706">EURYALE</text><text class="d" x="207" y="712"><tspan x="207">Their gaze turned</tspan><tspan x="207" dy="4.2">men to stone.</tspan></text></g>
<g id="scylla"><text class="n m" x="212" y="735">SCYLLA</text></g>
<g id="chrysaor"><text class="n m" x="244" y="705">CHRYSAOR</text></g>
<g id="geryon"><text class="n m" x="255" y="728">GERYON</text></g>

<g id="eurybia"><text class="n r" x="148" y="762">EURYBIA</text><text class="n r" x="148" y="769">CRIUS</text></g>
<g id="cerberus"><text class="n m" x="182" y="768">MONSTERS:</text><text class="n m" x="178" y="776">CERBERUS</text><text class="d" transform="translate(178,783) skewX(-18)"><tspan x="0">A monstrous</tspan><tspan x="0" dy="4.2">three-headed</tspan><tspan x="0" dy="4.2">dog, guardian</tspan><tspan x="0" dy="4.2">of the underworld.</tspan></text></g>
<g id="perse1"><text class="n r" x="212" y="777">PERSE</text><text class="d" transform="translate(212,783) skewX(-18)"><tspan x="0">Like the titans,</tspan><tspan x="0" dy="4.2">he was thrown</tspan><tspan x="0" dy="4.2">into the underworld.</tspan></text></g>
<g id="tartarus"><text class="n r" x="103" y="813">TARTARUS</text><text class="n r" x="103" y="821">GAIA</text><text class="d" transform="translate(103,827) skewX(-20)"><tspan x="0">In Hesiod's</tspan><tspan x="0" dy="4.2">theogony, the</tspan><tspan x="0" dy="4.2">deepest region</tspan><tspan x="0" dy="4.2">of the world,</tspan><tspan x="0" dy="4.2">located beneath</tspan><tspan x="0" dy="4.2">the underworld.</tspan><tspan x="0" dy="4.2">The same distance</tspan><tspan x="0" dy="4.2">is found between</tspan><tspan x="0" dy="4.2">the underworld</tspan><tspan x="0" dy="4.2">and Tartarus as</tspan><tspan x="0" dy="4.2">between heaven</tspan><tspan x="0" dy="4.2">and earth.</tspan></text></g>
<g id="typhoeus"><text class="n m" x="135" y="813">TYPHOEUS</text><text class="n m" x="135" y="821">ECHIDNA</text><text class="d" transform="translate(136,827) skewX(-20)"><tspan x="0">A fearsome</tspan><tspan x="0" dy="4.2">dragon of</tspan><tspan x="0" dy="4.2">enormous size,</tspan><tspan x="0" dy="4.2">he dared to</tspan><tspan x="0" dy="4.2">challenge Zeus,</tspan><tspan x="0" dy="4.2">who buried him</tspan><tspan x="0" dy="4.2">under Etna.</tspan></text></g>
<g id="hydra"><text class="n m" x="170" y="812">HYDRA</text><text class="d" transform="translate(170,818) skewX(-20)"><tspan x="0">A great sea</tspan><tspan x="0" dy="4.2">serpent with nine</tspan><tspan x="0" dy="4.2">heads, the central</tspan><tspan x="0" dy="4.2">one of which was</tspan><tspan x="0" dy="4.2">immortal.</tspan></text></g>
<g id="sphinx"><text class="n m" x="206" y="805">SPHINX</text><text class="d" transform="translate(206,811) skewX(-20)"><tspan x="0">A winged monster</tspan><tspan x="0" dy="4.2">with the body of</tspan><tspan x="0" dy="4.2">a lion, defeated</tspan><tspan x="0" dy="4.2">by Oedipus.</tspan></text></g>
<g id="pallas-styx"><text class="n r" x="240" y="797">PALLAS</text><text class="n r" x="239" y="804">STYX</text><text class="d" transform="translate(240,810) skewX(-18)"><tspan x="0">The oldest of</tspan><tspan x="0" dy="4.2">Oceanus's</tspan><tspan x="0" dy="4.2">daughters.</tspan></text></g>
<g id="orthus"><text class="n m" x="152" y="875">ORTHUS</text><text class="n m" x="152" y="882">ECHIDNA</text><text class="d" transform="translate(150,888) skewX(-20)"><tspan x="0">Orthus, a</tspan><tspan x="0" dy="4.2">two-headed dog,</tspan><tspan x="0" dy="4.2">guardian of the</tspan><tspan x="0" dy="4.2">herds of Geryon.</tspan></text></g>
<g id="nemean"><text class="n m" x="180" y="893">NEMEAN LION</text><text class="d" transform="translate(180,899) skewX(-20)"><tspan x="0">An invulnerable</tspan><tspan x="0" dy="4.2">monster killed</tspan><tspan x="0" dy="4.2">by Heracles, who</tspan><tspan x="0" dy="4.2">made clothing</tspan><tspan x="0" dy="4.2">out of its skin.</tspan></text></g>
<g id="chimera"><text class="n m" x="128" y="940">CHIMERA</text><text class="d" transform="translate(128,946) skewX(-20)"><tspan x="0">It could breathe</tspan><tspan x="0" dy="4.2">fire, had the head</tspan><tspan x="0" dy="4.2">of a lion, the body</tspan><tspan x="0" dy="4.2">of a goat and the</tspan><tspan x="0" dy="4.2">tail of a snake.</tspan></text></g>
<g id="ladon"><text class="n m" x="117" y="973">LADON</text><text class="d" transform="translate(116,979) skewX(-20)"><tspan x="0">A dragon with a</tspan><tspan x="0" dy="4.2">hundred heads.</tspan></text></g>
<g id="eros"><text class="big" x="52" y="848" font-size="16" font-style="italic" textLength="33" lengthAdjust="spacingAndGlyphs">EROS</text></g>

<g id="ares-line"><text class="n r" x="198" y="297">APHRODITE</text><text class="n r" x="232" y="270">ARES</text>
<text class="n r" x="250" y="208">PHOBOS</text><text class="n r" x="257" y="238">DEIMOS</text><text class="n r" x="258" y="252">EROS</text><text class="n r" x="267" y="288">ANTEROS</text><text class="n r" x="270" y="317">HARMONIA</text>
<text class="d" transform="translate(251,214) skewX(9)"><tspan x="0">Causing fear</tspan><tspan x="0" dy="4.2">in battle.</tspan></text>
<text class="d" transform="translate(258,244)"><tspan x="0">The sudden fear.</tspan></text>
<text class="d" transform="translate(259,258) skewX(9)"><tspan x="0">One of the many</tspan><tspan x="0" dy="4.2">love deities.</tspan></text>
<text class="d" transform="translate(233,276) skewX(9)"><tspan x="0">God of war and</tspan><tspan x="0" dy="4.2">violent fury, the</tspan><tspan x="0" dy="4.2">despiser of</tspan><tspan x="0" dy="4.2">the gods.</tspan></text>
<text class="d" transform="translate(268,294) skewX(9)"><tspan x="0">Avenger of</tspan><tspan x="0" dy="4.2">unrequited</tspan><tspan x="0" dy="4.2">love.</tspan></text>
<text class="d" transform="translate(199,303) skewX(6)"><tspan x="0">Born from the</tspan><tspan x="0" dy="4.2">foam of the sea.</tspan></text></g>
<g id="cyclopes"><text class="n r" x="282" y="197">CYCLOPES:</text><text class="n r" x="283" y="205">STEROPES</text><text class="n r" x="284" y="213">BRONTES</text><text class="n r" x="285" y="220">ARGES</text>
<text class="d" transform="translate(286,227) skewX(9)"><tspan x="0">Giant beings with</tspan><tspan x="0" dy="4.2">a single round</tspan><tspan x="0" dy="4.2">eye in the middle</tspan><tspan x="0" dy="4.2">of their foreheads,</tspan><tspan x="0" dy="4.2">they gave Zeus</tspan><tspan x="0" dy="4.2">thunder and</tspan><tspan x="0" dy="4.2">lightning.</tspan></text></g>
<g id="coeus"><text class="n r" x="317" y="205">COEUS</text><text class="n r" x="317" y="212">PHOEBE</text>
<text class="d" transform="translate(318,219) skewX(9)"><tspan x="0">Hesiod speaks of</tspan><tspan x="0" dy="4.2">Phoebe with the</tspan><tspan x="0" dy="4.2">golden crown, as</tspan><tspan x="0" dy="4.2">"bright one". She</tspan><tspan x="0" dy="4.2">was the founder</tspan><tspan x="0" dy="4.2">of the oracle</tspan><tspan x="0" dy="4.2">of Delphi.</tspan></text></g>
<g id="leto"><text class="n r" x="342" y="177">LETO</text><text class="n r" x="342" y="184">ZEUS</text><text class="d" transform="translate(343,190) skewX(9)"><tspan x="0">Leto watched over</tspan><tspan x="0" dy="4.2">by Hera, gave birth</tspan><tspan x="0" dy="4.2">on the island</tspan><tspan x="0" dy="4.2">of Delos.</tspan></text></g>
<g id="apollo1"><text class="n r" x="378" y="187">APOLLO</text><text class="d" transform="translate(379,193) skewX(9)"><tspan x="0">God of light</tspan><tspan x="0" dy="4.2">and harmony,</tspan><tspan x="0" dy="4.2">rationality of</tspan><tspan x="0" dy="4.2">classical Greece.</tspan></text></g>
<g id="titanides"><text class="n2 r" x="303" y="325">TITANIDES:</text><text class="n2 r" x="305" y="335">TETHYS</text><text class="n2 r" x="306" y="343">PHOEBE</text><text class="n2 r" x="307" y="351">THEMIS</text><text class="n2 r" x="307" y="359">RHEA</text><text class="n2 r" x="308" y="367">MNEMOSYNE</text><text class="n2 r" x="308" y="375">THEIA</text>
<text class="d" transform="translate(309,381) skewX(6)"><tspan x="0">They were united</tspan><tspan x="0" dy="4.2">in marriage with</tspan><tspan x="0" dy="4.2">their Titan</tspan><tspan x="0" dy="4.2">brothers.</tspan></text></g>
<g id="hyperion"><text class="n r" x="350" y="345">HYPERION</text><text class="n r" x="350" y="352">THEIA</text></g>
<g id="asteria"><text class="n r" x="363" y="270">ASTERIA</text><text class="n r" x="363" y="277">PERSE</text></g>
<g id="hecate"><text class="n r" x="393" y="272">HECATE</text></g>
<g id="selene"><text class="n r" x="372" y="296">SELENE</text><text class="d" transform="translate(373,302) skewX(9)"><tspan x="0">During the night</tspan><tspan x="0" dy="4.2">she travels</tspan><tspan x="0" dy="4.2">across the sky</tspan><tspan x="0" dy="4.2">on a chariot.</tspan></text></g>
<g id="endymion"><text class="n g" x="397" y="283">ENDYMION</text></g>
<g id="eos"><text class="n r" x="372" y="358">EOS</text><text class="d" transform="translate(373,364) skewX(9)"><tspan x="0">Goddess of</tspan><tspan x="0" dy="4.2">the dawn.</tspan></text></g>
<g id="eos-children"><text class="n g" x="400" y="305">CEPHALUS</text><text class="n r" x="402" y="324">ASTRAEUS</text><text class="n r" x="403" y="341">ORION</text><text class="n g" x="405" y="352">CLEITUS</text><text class="n g" x="407" y="380">TITHONUS</text><text class="n r" x="407" y="388">PERSES</text></g>
<g id="winds"><text class="n r" x="433" y="307">ANEMOI:</text><text class="n r" x="435" y="315">BOREAS</text><text class="n r" x="435" y="322">NOTUS</text><text class="n r" x="435" y="329">ZEPHYRUS</text><text class="n r" x="435" y="336">EURUS</text><text class="n r" x="437" y="345">PHOSPHORUS</text></g>
<g id="giants"><text class="n r" x="208" y="330">GIANTS</text><text class="d" transform="translate(209,336) skewX(6)"><tspan x="0">Huge and violent,</tspan><tspan x="0" dy="4.2">they challenged</tspan><tspan x="0" dy="4.2">the Olympians,</tspan><tspan x="0" dy="4.2">who defeated them</tspan><tspan x="0" dy="4.2">in the</tspan><tspan x="0" dy="4.2">Gigantomachy.</tspan></text></g>
<g id="adonis"><text class="n g" x="240" y="332">ADONIS</text><text class="d" transform="translate(241,338) skewX(6)"><tspan x="0">A young man of</tspan><tspan x="0" dy="4.2">rare beauty,</tspan><tspan x="0" dy="4.2">contended for by</tspan><tspan x="0" dy="4.2">Aphrodite and</tspan><tspan x="0" dy="4.2">Persephone.</tspan></text></g>
<g id="pygmalion"><text class="n g" x="248" y="383">PYGMALION</text><text class="n g" x="278" y="383">PAPHOS</text></g>
<g id="hermes1"><text class="n r" x="250" y="425">HERMES</text><text class="n r" x="278" y="425">HERMAPHRODITUS</text><text class="d" x="279" y="431"><tspan x="279">A being of</tspan><tspan x="279" dy="4.2">dual sexuality.</tspan></text></g>
<g id="anchises1"><text class="n g" x="246" y="443">ANCHISES</text><text class="n g" x="279" y="443">AENEAS</text><text class="d" x="280" y="449"><tspan x="280">He became the</tspan><tspan x="280" dy="4.2">progenitor of the</tspan><tspan x="280" dy="4.2">Roman gens Iulia.</tspan></text></g>
<g id="priapus"><text class="n r" x="245" y="477">DIONYSUS</text><text class="n r" x="280" y="477">PRIAPUS</text><text class="d" x="280" y="483">God of fertility.</text></g>
<g id="titans"><text class="n2 r" x="313" y="462">TITANS:</text><text class="n2 r" x="313" y="471">OCEANUS</text><text class="n2 r" x="313" y="478">COEUS</text><text class="n2 r" x="313" y="486">HYPERION</text><text class="n2 r" x="313" y="494">CRONOS</text><text class="n2 r" x="313" y="502">IAPETUS</text><text class="n2 r" x="313" y="509">CRIUS</text>
<text class="d" x="313" y="516"><tspan x="313">After Cronos</tspan><tspan x="313" dy="4.2">freed the Titans</tspan><tspan x="313" dy="4.2">from captivity,</tspan><tspan x="313" dy="4.2">they engaged in a</tspan><tspan x="313" dy="4.2">furious battle</tspan><tspan x="313" dy="4.2">called the</tspan><tspan x="313" dy="4.2">Titanomachy</tspan><tspan x="313" dy="4.2">with the</tspan><tspan x="313" dy="4.2">Olympian gods.</tspan><tspan x="313" dy="4.2">After ten years,</tspan><tspan x="313" dy="4.2">the Olympians</tspan><tspan x="313" dy="4.2">prevailed with</tspan><tspan x="313" dy="4.2">the help of the</tspan><tspan x="313" dy="4.2">Hekatoncheires,</tspan><tspan x="313" dy="4.2">and the Titans</tspan><tspan x="313" dy="4.2">were imprisoned</tspan><tspan x="313" dy="4.2">in the depths</tspan><tspan x="313" dy="4.2">of Tartarus.</tspan></text></g>
<g id="cronos"><text class="big" x="346" y="480" font-size="14" textLength="41" lengthAdjust="spacingAndGlyphs">CRONOS</text><text class="big" x="346" y="494" font-size="14" textLength="26" lengthAdjust="spacingAndGlyphs">RHEA</text>
<text class="d" x="346" y="501"><tspan x="346">Rhea, mother of</tspan><tspan x="346" dy="4.2">the gods,</tspan><tspan x="346" dy="4.2">dethroned</tspan><tspan x="346" dy="4.2">Cronos by</tspan><tspan x="346" dy="4.2">hiding Zeus</tspan><tspan x="346" dy="4.2">in a cave in</tspan><tspan x="346" dy="4.2">Crete and</tspan><tspan x="346" dy="4.2">giving her</tspan><tspan x="346" dy="4.2">husband a</tspan><tspan x="346" dy="4.2">stone wrapped</tspan><tspan x="346" dy="4.2">in swaddling</tspan><tspan x="346" dy="4.2">clothes.</tspan></text></g>
<g id="zeus"><text class="big" x="412" y="476" font-size="17" textLength="26" lengthAdjust="spacingAndGlyphs">ZEUS</text></g>
<g id="dactyls"><text class="n r" x="378" y="493">DACTYLS</text><text class="d" x="378" y="499"><tspan x="378">Servants of Rhea,</tspan><tspan x="378" dy="4.2">dedicated to</tspan><tspan x="378" dy="4.2">metalworking,</tspan><tspan x="378" dy="4.2">born from the</tspan><tspan x="378" dy="4.2">fingers she</tspan><tspan x="378" dy="4.2">thrust into the</tspan><tspan x="378" dy="4.2">earth while giving</tspan><tspan x="378" dy="4.2">birth to Zeus.</tspan></text></g>
<g id="curetes"><text class="n r" x="378" y="547">CURETES</text><text class="d" x="378" y="553"><tspan x="378">They performed</tspan><tspan x="378" dy="4.2">a noisy warrior</tspan><tspan x="378" dy="4.2">dance so that</tspan><tspan x="378" dy="4.2">Cronos would not</tspan><tspan x="378" dy="4.2">hear Zeus' cries.</tspan></text></g>
<g id="kabeiroi"><text class="n r" x="378" y="578">KABEIROI</text><text class="d" x="378" y="584"><tspan x="378">Servants of</tspan><tspan x="378" dy="4.2">Hephaestus, tied</tspan><tspan x="378" dy="4.2">to mystery cults.</tspan></text></g>
<g id="attis"><text class="n r" x="373" y="610">ATTIS</text><text class="d" x="373" y="616"><tspan x="373">Lover of Rhea,</tspan><tspan x="373" dy="4.2">he was driven</tspan><tspan x="373" dy="4.2">mad and castrated</tspan><tspan x="373" dy="4.2">himself.</tspan></text></g>
<g id="eleusinian"><text class="kb" x="343" y="570" font-size="4.4">ELEUSINIAN</text><text class="kb" x="343" y="575" font-size="4.4">MYSTERIES</text><text class="kb" x="343" y="581"><tspan x="343">They were</tspan><tspan x="343" dy="4.2">mysterious religious</tspan><tspan x="343" dy="4.2">initiations which</tspan><tspan x="343" dy="4.2">were celebrated</tspan><tspan x="343" dy="4.2">every year in</tspan><tspan x="343" dy="4.2">Demeter's</tspan><tspan x="343" dy="4.2">sanctuary in the</tspan><tspan x="343" dy="4.2">city of Eleusis.</tspan></text></g>
<g id="hekatoncheires"><text class="kb" x="304" y="645" font-size="4.4">HEKATONCHEIRES</text><text class="n r" x="335" y="648">CRONOS</text><text class="n g" x="368" y="648">CHIRON</text><text class="n r" x="400" y="648">HIPPE</text></g>
<g id="helios"><text class="n r" x="377" y="421">HELIOS</text><text class="d" x="377" y="427"><tspan x="377">God of the sun,</tspan><tspan x="377" dy="4.2">he crossed the</tspan><tspan x="377" dy="4.2">sky every day</tspan><tspan x="377" dy="4.2">on a chariot</tspan><tspan x="377" dy="4.2">drawn by four</tspan><tspan x="377" dy="4.2">fiery horses.</tspan></text></g>
<g id="helios-children"><text class="n r" x="410" y="403">RHODE</text><text class="n r" x="410" y="424">NAUSIDAME</text><text class="n r" x="410" y="437">CLYMENE</text><text class="n r" x="410" y="452">NEAERA</text>
<text class="n g" x="443" y="410">AUGEAS</text><text class="n g" x="468" y="410">PHILAEUS</text><text class="n g" x="443" y="430">ACTOR</text><text class="n g" x="477" y="430">MOLIONIDES</text><text class="n r" x="443" y="445">LAMPETIA</text><text class="n r" x="443" y="463">PHAETHUSA</text>
<text class="d" x="443" y="416">King of Elis.</text><text class="d" x="443" y="451"><tspan x="443">The guardian</tspan><tspan x="443" dy="4.2">of Helios' cattle.</tspan></text></g>
<g id="hestia"><text class="n r" x="445" y="487">HESTIA</text><text class="d" x="445" y="493"><tspan x="445">Hestia, protector</tspan><tspan x="445" dy="4.2">of the hearth and</tspan><tspan x="445" dy="4.2">the centre of</tspan><tspan x="445" dy="4.2">domestic life.</tspan><tspan x="445" dy="4.2">She never left</tspan><tspan x="445" dy="4.2">Olympus.</tspan></text></g>
<g id="demeter"><text class="n r" x="409" y="527">DEMETER</text><text class="n g" x="409" y="533">IASON</text><text class="d" x="409" y="493"><tspan x="409">Demeter, goddess</tspan><tspan x="409" dy="4.2">of cultivated land</tspan><tspan x="409" dy="4.2">and harvests.</tspan></text></g>
<g id="plutus"><text class="n r" x="445" y="527">PLUTUS</text><text class="d" x="445" y="533"><tspan x="445">God of wealth</tspan><tspan x="445" dy="4.2">and abundance.</tspan></text></g>
<g id="poseidon"><text class="n r" x="410" y="546">POSEIDON</text><text class="d" x="410" y="552"><tspan x="410">God of the sea and</tspan><tspan x="410" dy="4.2">earthquakes, he</tspan><tspan x="410" dy="4.2">lived in a golden</tspan><tspan x="410" dy="4.2">palace in the</tspan><tspan x="410" dy="4.2">depths of the sea.</tspan></text></g>
<g id="poseidon-children"><text class="n r" x="477" y="482">AMPHITRITE</text><text class="n r" x="477" y="503">THEOPHANE</text><text class="n r" x="477" y="523">HALIA</text><text class="n r" x="477" y="553">EURYALE</text><text class="n r" x="474" y="565">DEMETER</text>
<text class="d" x="477" y="488"><tspan x="477">Queen of the sea,</tspan><tspan x="477" dy="4.2">a Nereid.</tspan></text><text class="d" x="477" y="509"><tspan x="477">Turned into a</tspan><tspan x="477" dy="4.2">ewe by Poseidon.</tspan></text><text class="d" x="477" y="529"><tspan x="477">The nymph of</tspan><tspan x="477" dy="4.2">Rhodes.</tspan></text></g>
<g id="hera"><text class="n r" x="438" y="603">HERA</text><text class="d" x="438" y="609"><tspan x="438">The jealous wife</tspan><tspan x="438" dy="4.2">of Zeus, queen</tspan><tspan x="438" dy="4.2">of Olympus.</tspan></text></g>
<g id="hades"><text class="n r" x="403" y="622">HADES</text><text class="n r" x="403" y="630">PERSEPHONE</text><text class="d" x="403" y="636"><tspan x="403">Cruel ruler of the</tspan><tspan x="403" dy="4.2">underworld.</tspan></text></g>
<g id="iacchus"><text class="n r" x="437" y="622">IACCHUS</text><text class="d" x="437" y="628"><tspan x="437">Name of the god</tspan><tspan x="437" dy="4.2">of the Eleusinian</tspan><tspan x="437" dy="4.2">mysteries.</tspan></text></g>
<g id="pleiades"><text class="n r" x="470" y="588">PLEIADES:</text><text class="n r" x="470" y="595">ELECTRA</text><text class="n r" x="471" y="602">ALCYONE</text><text class="n r" x="471" y="609">CELAENO</text><text class="n r" x="472" y="616">STEROPES</text><text class="n r" x="472" y="623">MEROPE</text><text class="n r" x="473" y="630">TAYGETE</text><text class="n r" x="473" y="637">MAIA</text></g>
<g id="triton"><text class="n r" x="512" y="482">TRITON</text><text class="n r" x="543" y="482">PALLAS</text><text class="d" x="512" y="488"><tspan x="512">He had a human</tspan><tspan x="512" dy="4.2">body and a</tspan><tspan x="512" dy="4.2">fish tail.</tspan></text><text class="d" x="543" y="488"><tspan x="543">Playmate of</tspan><tspan x="543" dy="4.2">Athena, who killed</tspan><tspan x="543" dy="4.2">her by mistake.</tspan></text></g>
<g id="golden-ram"><text class="n r" x="543" y="503">GOLDEN</text><text class="n r" x="543" y="509">FLEECED RAM</text><text class="d" x="543" y="515"><tspan x="543">A magical ram</tspan><tspan x="543" dy="4.2">who fled with</tspan><tspan x="543" dy="4.2">Phrixus to Colchis.</tspan></text></g>
<g id="rhode2"><text class="n r" x="510" y="533">RHODE</text><text class="d" x="510" y="539"><tspan x="510">According to</tspan><tspan x="510" dy="4.2">some sources,</tspan><tspan x="510" dy="4.2">daughter of</tspan><tspan x="510" dy="4.2">Aphrodite.</tspan></text></g>
<g id="orion2"><text class="n r" x="542" y="554">ORION</text><text class="d" x="542" y="560"><tspan x="542">A giant hunter,</tspan><tspan x="542" dy="4.2">killed by a</tspan><tspan x="542" dy="4.2">scorpion.</tspan></text></g>
<g id="arion"><text class="n r" x="508" y="565">ARION</text><text class="d" x="508" y="571"><tspan x="508">A fabulously</tspan><tspan x="508" dy="4.2">fast horse.</tspan></text></g>

<g id="telamon"><text class="n g" x="443" y="30">TELAMON</text><text class="d" transform="translate(437,40) skewX(7)"><tspan x="0">King of Salamis,</tspan><tspan x="0" dy="4.2">he took part in</tspan><tspan x="0" dy="4.2">the Argonauts'</tspan><tspan x="0" dy="4.2">expedition.</tspan></text></g>
<g id="periboea"><text class="n g" x="493" y="23">PERIBOEA</text><text class="n g" x="527" y="23">AJAX T.</text><text class="n g" x="530" y="30">TECMESSA</text><text class="n g" x="557" y="23">EURYSACES</text><text class="d" transform="translate(557,29) skewX(7)"><tspan x="0">Son of Ajax and</tspan><tspan x="0" dy="4.2">Tecmessa.</tspan></text></g>
<g id="hesione"><text class="n g" x="463" y="36">HESIONE</text><text class="n g" x="500" y="36">TEUCER</text><text class="d" transform="translate(500,42) skewX(7)"><tspan x="0">The most skilled</tspan><tspan x="0" dy="4.2">archer among the</tspan><tspan x="0" dy="4.2">Greeks.</tspan></text></g>
<g id="aeacids"><text class="n g" x="360" y="12">MENOETIUS</text><text class="n g" x="392" y="16">PATROCLUS</text><text class="d" transform="translate(392,22) skewX(7)"><tspan x="0">Achilles' beloved</tspan><tspan x="0" dy="4.2">companion,</tspan><tspan x="0" dy="4.2">killed by Hector.</tspan></text></g>
<g id="peleus"><text class="n g" x="440" y="63">PELEUS</text><text class="n r" x="443" y="70">THETIS</text><text class="n g" x="477" y="63">ACHILLES</text><text class="n g" x="477" y="70">DEIDAMIA</text><text class="n g" x="508" y="63">NEOPTOLEMUS</text><text class="n g" x="537" y="62">HERMIONE</text>
<text class="d" transform="translate(477,76) skewX(7)"><tspan x="0">Achilles, the</tspan><tspan x="0" dy="4.2">Greek hero par</tspan><tspan x="0" dy="4.2">excellence.</tspan></text>
<text class="d" transform="translate(508,69) skewX(7)"><tspan x="0">Together with</tspan><tspan x="0" dy="4.2">Philoctetes, he</tspan><tspan x="0" dy="4.2">was decisive in</tspan><tspan x="0" dy="4.2">the fall of Troy.</tspan></text>
<text class="d" transform="translate(537,68) skewX(7)"><tspan x="0">Daughter of Helen</tspan><tspan x="0" dy="4.2">and Menelaus.</tspan></text>
<text class="d" transform="translate(440,76) skewX(7)"><tspan x="0">All the gods</tspan><tspan x="0" dy="4.2">attended their</tspan><tspan x="0" dy="4.2">wedding.</tspan></text></g>
<g id="phocus"><text class="n g" x="415" y="87">PHOCUS</text><text class="n g" x="420" y="93">ASTERIA</text></g>
<g id="andromache"><text class="n g" x="537" y="86">ANDROMACHE</text><text class="n g" x="577" y="76">PERGAMUS</text><text class="n g" x="583" y="97">PIELUS</text><text class="n g" x="588" y="110">MOLOSSUS</text><text class="d" transform="translate(588,116) skewX(7)"><tspan x="0">He was king of</tspan><tspan x="0" dy="4.2">Epirus and founder</tspan><tspan x="0" dy="4.2">of the Molossian</tspan><tspan x="0" dy="4.2">people.</tspan></text></g>
<g id="crisus"><text class="n g" x="463" y="100">CRISUS</text><text class="n g" x="463" y="107">ANTIPHATIA</text><text class="n g" x="497" y="100">STROPHIUS</text><text class="n g" x="497" y="107">ANAXIBIA</text><text class="n g" x="527" y="100">PYLADES</text><text class="n g" x="527" y="107">ELECTRA</text><text class="n g" x="552" y="98">STROPHIUS</text><text class="n g" x="557" y="114">MEDON</text></g>
<g id="minos"><text class="n m" x="620" y="13">MINOTAUR</text><text class="n g" x="625" y="23">CATREUS</text><text class="n g" x="622" y="43">PHAEDRA</text><text class="n g" x="633" y="56">ARIADNE</text><text class="n g" x="613" y="87">MINOS</text><text class="n g" x="613" y="93">PASIPHAE</text><text class="n g" x="633" y="137">RHADAMANTHYS</text><text class="n g" x="633" y="143">ALCMENE</text>
<text class="d" transform="translate(614,99) skewX(7)"><tspan x="0">King of Crete,</tspan><tspan x="0" dy="4.2">he became a</tspan><tspan x="0" dy="4.2">judge of the</tspan><tspan x="0" dy="4.2">underworld.</tspan></text></g>
<g id="atreids"><text class="n g" x="668" y="12">MENELAUS</text><text class="n g" x="668" y="19">HELEN</text><text class="n g" x="705" y="12">HERMIONE</text><text class="n g" x="700" y="40">AGAMEMNON</text><text class="n g" x="700" y="47">CLYTEMNESTRA</text><text class="n g" x="672" y="72">ATREUS</text><text class="n g" x="672" y="79">AEROPE</text>
<text class="d" transform="translate(668,25) skewX(7)"><tspan x="0">King of Sparta,</tspan><tspan x="0" dy="4.2">husband of Helen.</tspan></text>
<text class="d" transform="translate(700,53) skewX(7)"><tspan x="0">Leader of the</tspan><tspan x="0" dy="4.2">Greeks at Troy,</tspan><tspan x="0" dy="4.2">killed on his</tspan><tspan x="0" dy="4.2">return home.</tspan></text>
<text class="d" transform="translate(672,85) skewX(7)"><tspan x="0">He served his</tspan><tspan x="0" dy="4.2">brother's sons</tspan><tspan x="0" dy="4.2">at a banquet.</tspan></text></g>
<g id="orpheus"><text class="n r" x="430" y="123">DAPHNE</text><text class="n g" x="458" y="117">LINUS</text><text class="n g" x="500" y="124">ORPHEUS</text><text class="n g" x="500" y="131">EURYDICE</text><text class="n g" x="560" y="123">MUSAEUS</text><text class="n r" x="465" y="140">CALLIOPE</text>
<text class="d" transform="translate(502,137) skewX(7)"><tspan x="0">No mortal singer</tspan><tspan x="0" dy="4.2">could equal him.</tspan><tspan x="0" dy="4.2">He tried in vain</tspan><tspan x="0" dy="4.2">to bring Eurydice</tspan><tspan x="0" dy="4.2">back from Hades.</tspan></text>
<text class="d" transform="translate(560,129) skewX(7)"><tspan x="0">A musician and</tspan><tspan x="0" dy="4.2">soothsayer.</tspan></text></g>
<g id="europa"><text class="n g" x="532" y="143">EUROPA</text><text class="d" transform="translate(533,149) skewX(7)"><tspan x="0">She was</tspan><tspan x="0" dy="4.2">abducted and</tspan><tspan x="0" dy="4.2">loved by Zeus.</tspan></text></g>
<g id="apollo-children"><text class="n r" x="408" y="156">PHTHIA</text><text class="n g" x="468" y="152">DORUS</text><text class="n g" x="470" y="162">LAODOCUS</text><text class="n g" x="472" y="172">POLYPOETES</text><text class="n g" x="413" y="168">HYACINTHUS</text><text class="n g" x="413" y="178">CYPARISSUS</text><text class="n r" x="413" y="188">CYRENE</text><text class="n g" x="458" y="188">ARISTAEUS</text><text class="n g" x="458" y="195">AUTONOE</text><text class="n g" x="488" y="188">ACTAEON</text><text class="n g" x="418" y="212">HECUBA</text><text class="n g" x="450" y="213">TROILUS</text><text class="n r" x="453" y="223">CORONIS</text><text class="n g" x="483" y="223">ASCLEPIUS</text><text class="n g" x="515" y="208">PODALIRIUS</text><text class="n g" x="515" y="232">MACHAON</text><text class="n r" x="507" y="177">HYMEN</text><text class="n r" x="423" y="250">RHOEO</text>
<text class="d" transform="translate(488,194) skewX(7)"><tspan x="0">He was turned</tspan><tspan x="0" dy="4.2">into a stag for</tspan><tspan x="0" dy="4.2">having seen</tspan><tspan x="0" dy="4.2">Artemis naked.</tspan></text>
<text class="d" transform="translate(483,229) skewX(7)"><tspan x="0">The god of</tspan><tspan x="0" dy="4.2">medicine.</tspan></text>
<text class="d" transform="translate(413,194) skewX(7)"><tspan x="0">Daughter of</tspan><tspan x="0" dy="4.2">Hypseus.</tspan></text>
<text class="d" transform="translate(423,256) skewX(7)"><tspan x="0">Loved by Apollo,</tspan><tspan x="0" dy="4.2">she was set adrift</tspan><tspan x="0" dy="4.2">in a chest.</tspan></text></g>
<g id="horae"><text class="n r" x="563" y="155">HORAE:</text><text class="n r" x="565" y="162">EUNOMIA</text><text class="n r" x="567" y="169">DIKE</text><text class="n r" x="568" y="175">EIRENE</text><text class="n r" x="543" y="182">THEMIS</text><text class="d" transform="translate(543,188) skewX(7)"><tspan x="0">Personification</tspan><tspan x="0" dy="4.2">of the law</tspan><tspan x="0" dy="4.2">of nature.</tspan></text></g>
<g id="muses"><text class="n r" x="607" y="177">MUSES:</text><text class="n r" x="608" y="183">CLIO</text><text class="n r" x="609" y="189">THALIA</text><text class="n r" x="610" y="195">MELPOMENE</text><text class="n r" x="612" y="202">URANIA</text><text class="n r" x="613" y="208">TERPSICHORE</text><text class="n r" x="614" y="214">ERATO</text><text class="n r" x="616" y="221">POLYHYMNIA</text><text class="n r" x="617" y="227">CALLIOPE</text><text class="n r" x="618" y="233">EUTERPE</text></g>
<g id="mnemosyne"><text class="n r" x="551" y="207">MNEMOSYNE</text><text class="d" x="551" y="213">Personification of memory.</text></g>
<g id="charites"><text class="n r" x="582" y="214">CHARITES:</text><text class="n r" x="583" y="221">AGLAEA</text><text class="n r" x="585" y="227">EUPHROSYNE</text><text class="n r" x="587" y="233">THALIA</text><text class="d" transform="translate(587,239) skewX(7)"><tspan x="0">Aphrodite's</tspan><tspan x="0" dy="4.2">attendants,</tspan><tspan x="0" dy="4.2">personifying</tspan><tspan x="0" dy="4.2">beauty.</tspan></text></g>
<g id="eurynome"><text class="n r" x="552" y="230">EURYNOME</text><text class="d" transform="translate(552,236) skewX(7)"><tspan x="0">A sea goddess,</tspan><tspan x="0" dy="4.2">she raised</tspan><tspan x="0" dy="4.2">Hephaestus.</tspan></text></g>

<g id="chrysothemis"><text class="n g" x="753" y="16">CHRYSOTHEMIS</text><text class="n g" x="765" y="47">ORESTES</text><text class="n g" x="795" y="40">IPHIGENIA</text><text class="n g" x="780" y="90">ELECTRA</text><text class="n g" x="753" y="110">PLEISTHENES</text><text class="n g" x="822" y="110">DEMOPHON</text>
<text class="d" transform="translate(753,22) skewX(7)"><tspan x="0">She did not avenge</tspan><tspan x="0" dy="4.2">her father.</tspan></text>
<text class="d" transform="translate(765,53) skewX(7)"><tspan x="0">He killed his</tspan><tspan x="0" dy="4.2">mother to avenge</tspan><tspan x="0" dy="4.2">the murder of</tspan><tspan x="0" dy="4.2">his father.</tspan></text>
<text class="d" transform="translate(795,46) skewX(7)"><tspan x="0">Her father was</tspan><tspan x="0" dy="4.2">willing to sacrifice</tspan><tspan x="0" dy="4.2">her to Artemis, but</tspan><tspan x="0" dy="4.2">the goddess</tspan><tspan x="0" dy="4.2">replaced her</tspan><tspan x="0" dy="4.2">with a hind.</tspan></text>
<text class="d" transform="translate(780,96) skewX(7)"><tspan x="0">She urged Orestes</tspan><tspan x="0" dy="4.2">to avenge</tspan><tspan x="0" dy="4.2">their father.</tspan></text>
<text class="d" transform="translate(822,116) skewX(7)"><tspan x="0">Acamas' brother,</tspan><tspan x="0" dy="4.2">he rode the</tspan><tspan x="0" dy="4.2">Trojan horse.</tspan></text></g>
<g id="phaedra2"><text class="n r" x="793" y="135">PHAEDRA</text><text class="n g" x="828" y="138">ACAMAS</text><text class="n g" x="828" y="146">LAODICE</text><text class="n g" x="868" y="139">MUNITUS</text><text class="d" x="868" y="145"><tspan x="868">He died of a</tspan><tspan x="868" dy="4.2">snake bite.</tspan></text>
<text class="d" transform="translate(793,141) skewX(7)"><tspan x="0">She committed</tspan><tspan x="0" dy="4.2">suicide out of</tspan><tspan x="0" dy="4.2">remorse.</tspan></text></g>
<g id="theseus1"><text class="n g" x="767" y="163">THESEUS</text><text class="n g" x="807" y="163">HIPPOLYTA</text><text class="n g" x="875" y="163">HIPPOLYTUS</text>
<text class="d" transform="translate(807,169) skewX(7)"><tspan x="0">Queen of the</tspan><tspan x="0" dy="4.2">Amazons.</tspan></text>
<text class="d" transform="translate(875,169) skewX(7)"><tspan x="0">Unjustly accused</tspan><tspan x="0" dy="4.2">by Phaedra, he</tspan><tspan x="0" dy="4.2">was killed by a</tspan><tspan x="0" dy="4.2">monster sent</tspan><tspan x="0" dy="4.2">by Poseidon.</tspan></text></g>
<g id="pelopia"><text class="n g" x="782" y="186">PELOPIA</text><text class="n g" x="782" y="192">THYESTES</text><text class="n g" x="808" y="187">AEGISTHUS</text><text class="d" transform="translate(808,193) skewX(7)"><tspan x="0">He seduced</tspan><tspan x="0" dy="4.2">Clytemnestra.</tspan></text></g>
<g id="polynices"><text class="n g" x="853" y="209">POLYNICES</text><text class="n g" x="853" y="216">ARGIA</text><text class="n g" x="878" y="209">THERSANDER</text><text class="n g" x="878" y="216">DEMONASSA</text><text class="n g" x="910" y="210">TISAMENUS</text>
<text class="d" transform="translate(910,216) skewX(7)"><tspan x="0">After the death of</tspan><tspan x="0" dy="4.2">Thersander,</tspan><tspan x="0" dy="4.2">Peneleos became</tspan><tspan x="0" dy="4.2">regent of Thebes.</tspan></text></g>
<g id="oedipus"><text class="n g" x="780" y="220">PERIBOEA</text><text class="n g" x="750" y="230">LABDACUS</text><text class="n g" x="785" y="230">LAIUS</text><text class="n g" x="785" y="237">JOCASTA</text><text class="n g" x="815" y="231">OEDIPUS</text><text class="n g" x="850" y="242">ISMENE</text><text class="n g" x="883" y="241">ANTIGONE</text><text class="n g" x="753" y="240">MELICERTES</text>
<text class="d" transform="translate(815,237) skewX(7)"><tspan x="0">He blinded</tspan><tspan x="0" dy="4.2">himself for having</tspan><tspan x="0" dy="4.2">killed his father.</tspan></text>
<text class="d" transform="translate(883,247) skewX(7)"><tspan x="0">She was buried</tspan><tspan x="0" dy="4.2">alive by Creon.</tspan></text></g>
<g id="tarchon"><text class="n g" x="932" y="268">TARCHON</text><text class="d" transform="translate(932,274) skewX(7)"><tspan x="0">With his brother</tspan><tspan x="0" dy="4.2">he founded the</tspan><tspan x="0" dy="4.2">Etruscan cities.</tspan></text><text class="n g" x="932" y="290">TYRSENUS</text><text class="d" transform="translate(932,296) skewX(7)"><tspan x="0">The Etruscan hero.</tspan></text></g>
<g id="argonauts"><text class="kb" x="818" y="13" font-size="4.4">ARGONAUTS</text><text class="kb" transform="translate(818,19) skewX(5)"><tspan x="0">To reach Aetes'</tspan><tspan x="0" dy="4.2">kingdom of Colchis</tspan><tspan x="0" dy="4.2">and recover the</tspan><tspan x="0" dy="4.2">golden fleece, a</tspan><tspan x="0" dy="4.2">condition for his</tspan><tspan x="0" dy="4.2">return to the</tspan><tspan x="0" dy="4.2">throne of Iolcus,</tspan><tspan x="0" dy="4.2">Jason built the</tspan><tspan x="0" dy="4.2">ship Argo and</tspan><tspan x="0" dy="4.2">set sail with the</tspan><tspan x="0" dy="4.2">most famous</tspan><tspan x="0" dy="4.2">Greek heroes.</tspan></text></g>
<g id="seven"><text class="kb" x="863" y="43" font-size="4.4">SEVEN</text><text class="kb" x="863" y="48" font-size="4.4">AGAINST</text><text class="kb" x="863" y="53" font-size="4.4">THEBES</text><text class="kb" transform="translate(863,59) skewX(5)"><tspan x="0">Dethroned by his</tspan><tspan x="0" dy="4.2">brother Eteocles,</tspan><tspan x="0" dy="4.2">Polynices took</tspan><tspan x="0" dy="4.2">refuge in Argos,</tspan><tspan x="0" dy="4.2">where he organized</tspan><tspan x="0" dy="4.2">an army led by</tspan><tspan x="0" dy="4.2">seven princes.</tspan><tspan x="0" dy="4.2">The expedition</tspan><tspan x="0" dy="4.2">failed.</tspan></text></g>

<g id="pelops"><text class="n g" x="667" y="156">SARPEDON</text><text class="n g" x="702" y="163">PITTHEUS</text><text class="n g" x="737" y="163">AETHRA</text><text class="n g" x="737" y="169">AEGEUS</text><text class="n g" x="637" y="169">PELOPS</text><text class="n g" x="638" y="176">HIPPODAMIA</text><text class="n g" x="710" y="195">THYESTES</text><text class="n g" x="713" y="220">ALCATHOUS</text>
<text class="d" transform="translate(639,182) skewX(7)"><tspan x="0">Pelops won</tspan><tspan x="0" dy="4.2">Hippodamia in</tspan><tspan x="0" dy="4.2">a chariot race</tspan><tspan x="0" dy="4.2">against her</tspan><tspan x="0" dy="4.2">father.</tspan></text>
<text class="d" transform="translate(702,169) skewX(7)"><tspan x="0">King of</tspan><tspan x="0" dy="4.2">Troezen.</tspan></text>
<text class="d" transform="translate(710,201) skewX(7)"><tspan x="0">Exiled by his</tspan><tspan x="0" dy="4.2">brother Atreus.</tspan></text></g>
<g id="niobe"><text class="n g" x="650" y="223">NIOBE</text><text class="n g" x="650" y="231">AMPHION</text><text class="n g" x="683" y="223">CHLORIS</text><text class="n g" x="717" y="231">POLYDORUS</text><text class="n g" x="723" y="256">INO</text><text class="n g" x="723" y="263">ATHAMAS</text><text class="n g" x="760" y="277">LEARCHUS</text>
<text class="d" transform="translate(650,237) skewX(7)"><tspan x="0">Niobe boasted</tspan><tspan x="0" dy="4.2">of her children,</tspan><tspan x="0" dy="4.2">killed by Apollo</tspan><tspan x="0" dy="4.2">and Artemis.</tspan></text></g>
<g id="tantalus"><text class="n g" x="627" y="268">TANTALUS</text><text class="n r" x="627" y="275">DIONE</text><text class="n g" x="657" y="280">BROTEAS</text><text class="d" transform="translate(627,281) skewX(7)"><tspan x="0">He served his</tspan><tspan x="0" dy="4.2">son Pelops</tspan><tspan x="0" dy="4.2">to the gods.</tspan></text></g>
<g id="hera-children"><text class="n r" x="560" y="270">PHOTO</text><text class="n r" x="560" y="290">HERA</text><text class="n r" x="590" y="272">ARES</text><text class="n r" x="590" y="287">EILEITHYIA</text><text class="n r" x="597" y="307">HEBE</text><text class="n g" x="597" y="313">HERACLES</text><text class="n r" x="633" y="302">HEPHAESTUS</text>
<text class="d" x="590" y="293"><tspan x="590">Goddess of</tspan><tspan x="590" dy="4.2">childbirth.</tspan></text>
<text class="d" x="633" y="308"><tspan x="633">The deformed god</tspan><tspan x="633" dy="4.2">of metalworking.</tspan></text>
<text class="d" x="560" y="296"><tspan x="560">The jealous</tspan><tspan x="560" dy="4.2">and vengeful</tspan><tspan x="560" dy="4.2">wife of Zeus.</tspan></text></g>
<g id="agenor"><text class="n g" x="690" y="262">EUROPA</text><text class="n g" x="692" y="272">PHOENIX</text><text class="n g" x="693" y="287">CADMUS</text><text class="n r" x="693" y="293">HARMONIA</text><text class="n g" x="727" y="287">AGAVE</text><text class="n g" x="727" y="293">ECHION</text><text class="n g" x="760" y="287">PENTHEUS</text><text class="n g" x="730" y="307">SEMELE</text><text class="n r" x="730" y="313">ZEUS</text><text class="n r" x="763" y="307">DIONYSUS</text><text class="n g" x="663" y="305">AGENOR</text><text class="n g" x="663" y="312">TELEPHASSA</text><text class="n g" x="693" y="320">CILIX</text><text class="n g" x="730" y="332">AUTONOE</text>
<text class="d" transform="translate(763,313) skewX(7)"><tspan x="0">The god of wine</tspan><tspan x="0" dy="4.2">and ecstasy.</tspan></text>
<text class="d" transform="translate(693,299) skewX(7)"><tspan x="0">Cadmus founded</tspan><tspan x="0" dy="4.2">Thebes.</tspan></text></g>
<g id="io"><text class="n r" x="568" y="332">IO</text><text class="n g" x="603" y="332">EPAPHUS</text><text class="n g" x="603" y="338">MEMPHIS</text><text class="n g" x="637" y="332">LIBYA</text><text class="n r" x="637" y="338">POSEIDON</text><text class="n g" x="607" y="348">CASTOR</text><text class="n g" x="607" y="355">POLLUX</text><text class="n r" x="565" y="353">LEDA</text><text class="n g" x="610" y="382">HELEN</text>
<text class="d" transform="translate(568,338) skewX(7)"><tspan x="0">To punish her</tspan><tspan x="0" dy="4.2">for her beauty,</tspan><tspan x="0" dy="4.2">Hera turned her</tspan><tspan x="0" dy="4.2">into a heifer.</tspan></text>
<text class="d" transform="translate(565,359) skewX(7)"><tspan x="0">Daughter of</tspan><tspan x="0" dy="4.2">Thestius and wife</tspan><tspan x="0" dy="4.2">of Tyndareus.</tspan></text>
<text class="d" transform="translate(607,361) skewX(7)"><tspan x="0">Twins, protectors</tspan><tspan x="0" dy="4.2">of sailors.</tspan></text></g>
<g id="danaus"><text class="n g" x="707" y="343">DANAUS</text><text class="n g" x="770" y="353">50 DANAIDES</text><text class="n g" x="707" y="375">AEGYPTUS</text><text class="n g" x="770" y="373">50 SONS OF AEGYPTUS</text><text class="n g" x="673" y="368">BELUS</text><text class="n g" x="673" y="375">ACHIROE</text>
<text class="d" transform="translate(707,349) skewX(7)"><tspan x="0">King of Argos.</tspan></text><text class="d" transform="translate(770,359) skewX(7)"><tspan x="0">They killed their</tspan><tspan x="0" dy="4.2">husbands on their</tspan><tspan x="0" dy="4.2">wedding night.</tspan></text></g>
<g id="callisto"><text class="n r" x="565" y="397">CALLISTO</text><text class="n g" x="605" y="397">ARCAS</text><text class="n g" x="640" y="395">ELATUS</text></g>

<g id="olympian-right"><text class="n r" x="507" y="403">HELIADES</text><text class="n r" x="508" y="438">PHAETHON</text><text class="n g" x="608" y="404">LEANIRA</text><text class="n g" x="642" y="415">APHEIDAS</text><text class="n r" x="576" y="426">DEMETER</text><text class="n r" x="642" y="426">PERSEPHONE</text><text class="n r" x="642" y="433">ZEUS</text><text class="n r" x="680" y="427">ZAGREUS</text>
<text class="n r" x="608" y="445">ARTEMIS</text><text class="n r" x="576" y="459">LETO</text><text class="n r" x="608" y="480">APOLLO</text>
<text class="d" x="608" y="451"><tspan x="608">Apollo's twin sister,</tspan><tspan x="608" dy="4.2">goddess of the hunt</tspan><tspan x="608" dy="4.2">and wild animals.</tspan></text>
<text class="d" x="576" y="465"><tspan x="576">The Titanide</tspan><tspan x="576" dy="4.2">beloved by Zeus.</tspan></text>
<text class="d" x="508" y="444"><tspan x="508">He drove the</tspan><tspan x="508" dy="4.2">chariot of the sun</tspan><tspan x="508" dy="4.2">and was struck</tspan><tspan x="508" dy="4.2">by Zeus.</tspan></text>
<text class="d" x="576" y="432"><tspan x="576">Goddess of</tspan><tspan x="576" dy="4.2">agriculture.</tspan></text>
<text class="d" x="680" y="433"><tspan x="680">The first</tspan><tspan x="680" dy="4.2">Dionysus.</tspan></text></g>
<g id="antiope"><text class="n r" x="576" y="490">ANTIOPE</text><text class="n g" x="673" y="471">AMPHION</text><text class="n g" x="673" y="478">NIOBE</text><text class="n g" x="642" y="492">ZETHUS</text><text class="n g" x="642" y="499">AEDON</text><text class="n g" x="673" y="493">ITYLUS</text><text class="d" x="576" y="496"><tspan x="576">Daughter of</tspan><tspan x="576" dy="4.2">Nycteus.</tspan></text><text class="d" x="642" y="505"><tspan x="642">She was turned</tspan><tspan x="642" dy="4.2">into a nightingale.</tspan></text></g>
<g id="maia"><text class="n r" x="575" y="519">MAIA</text><text class="n r" x="608" y="519">HERMES</text><text class="n g" x="642" y="517">DRYOPE</text><text class="n r" x="675" y="517">PAN</text><text class="n g" x="637" y="528">HERSES</text><text class="n g" x="673" y="528">CEPHALUS</text>
<text class="d" x="608" y="525"><tspan x="608">Messenger of</tspan><tspan x="608" dy="4.2">the gods.</tspan></text><text class="d" x="642" y="523">Nymph of Arcadia.</text><text class="d" x="673" y="534"><tspan x="673">He killed his</tspan><tspan x="673" dy="4.2">wife Procris.</tspan></text><text class="d" x="575" y="525"><tspan x="575">The eldest of</tspan><tspan x="575" dy="4.2">the Pleiades.</tspan></text></g>
<g id="metis"><text class="n r" x="577" y="553">METIS</text><text class="n r" x="608" y="554">ATHENA</text><text class="n r" x="608" y="561">HEPHAESTUS</text><text class="n g" x="640" y="554">ERYSICHTHON</text><text class="n g" x="673" y="554">PANDION</text><text class="n g" x="673" y="561">ZEUXIPPE</text><text class="n r" x="608" y="573">HARMONIA</text>
<text class="d" x="608" y="567">Son of Hera.</text><text class="d" x="608" y="579"><tspan x="608">Ancestor of</tspan><tspan x="608" dy="4.2">the Thebans.</tspan></text><text class="d" x="577" y="559"><tspan x="577">Swallowed</tspan><tspan x="577" dy="4.2">by Zeus.</tspan></text></g>
<g id="erechtheus"><text class="n g" x="707" y="405">CEPHEUS</text><text class="n g" x="707" y="412">CASSIOPEIA</text><text class="n g" x="707" y="427">PHINEUS</text><text class="n g" x="707" y="462">ERECHTHEUS</text><text class="n g" x="707" y="468">PRAXITHEA</text><text class="n g" x="707" y="492">PHILOMELA</text><text class="n g" x="707" y="498">TEREUS</text><text class="n g" x="707" y="533">PROCNE</text><text class="n g" x="707" y="540">TEREUS</text><text class="n g" x="707" y="573">BUTES</text>
<text class="d" x="707" y="474"><tspan x="707">They had several</tspan><tspan x="707" dy="4.2">children, including</tspan><tspan x="707" dy="4.2">Procris.</tspan></text>
<text class="d" x="707" y="433"><tspan x="707">Promised to</tspan><tspan x="707" dy="4.2">Andromeda.</tspan></text>
<text class="d" x="707" y="504"><tspan x="707">Tereus raped her</tspan><tspan x="707" dy="4.2">and cut out</tspan><tspan x="707" dy="4.2">her tongue.</tspan></text></g>
<g id="troy-line"><text class="n g" x="507" y="590">ELECTRA</text><text class="n r" x="507" y="597">ZEUS</text><text class="n g" x="572" y="588">CORYTHUS</text><text class="n g" x="602" y="595">DARDANUS</text><text class="n g" x="602" y="602">BATEA</text><text class="n g" x="638" y="571">ILUS</text><text class="n g" x="637" y="592">IDAEA</text><text class="n g" x="637" y="603">ERICHTHONIUS</text><text class="n g" x="637" y="610">ASTYOCHE</text><text class="n g" x="668" y="603">TROS</text><text class="n g" x="668" y="610">CALLIRHOE</text><text class="n g" x="705" y="574">GANYMEDE</text><text class="n g" x="702" y="599">ILUS</text><text class="n g" x="702" y="606">EURYDICE</text><text class="n g" x="735" y="592">LAOMEDON</text><text class="n g" x="637" y="628">ZACYNTHUS</text>
<text class="d" x="705" y="580"><tspan x="705">Exceedingly</tspan><tspan x="705" dy="4.2">beautiful, Zeus</tspan><tspan x="705" dy="4.2">carried him off.</tspan></text>
<text class="d" x="702" y="612"><tspan x="702">He founded the</tspan><tspan x="702" dy="4.2">city of Ilion.</tspan></text></g>
<g id="xuthus"><text class="n g" x="538" y="594">ACHAEUS</text><text class="n g" x="505" y="604">XUTHUS</text><text class="n g" x="505" y="611">CREUSA</text><text class="n g" x="538" y="606">DIOMEDE</text><text class="n g" x="535" y="620">ION</text><text class="n g" x="572" y="602">ASTERODIA</text><text class="n g" x="570" y="615">CEPHALUS</text><text class="n g" x="602" y="622">JASON</text><text class="n g" x="535" y="636">DEIONEUS</text><text class="n g" x="535" y="643">DIOMEDE</text><text class="n g" x="570" y="639">PHYLACUS</text><text class="n g" x="600" y="639">IPHICLUS</text><text class="n g" x="632" y="639">PROTESILAUS</text><text class="n g" x="703" y="639">ASSARACUS</text><text class="n g" x="703" y="646">HIEROMNEME</text><text class="n g" x="733" y="640">CAPYS</text><text class="n g" x="733" y="647">THEMISTE</text>
<text class="d" x="505" y="617"><tspan x="505">King of Athens.</tspan></text><text class="d" x="535" y="626"><tspan x="535">Ancestor of</tspan><tspan x="535" dy="4.2">the Ionians.</tspan></text></g>

<g id="perseids"><text class="n g" x="773" y="403">MESTOR</text><text class="n g" x="805" y="403">PTERELAUS</text><text class="n g" x="773" y="414">GORGOPHONE</text><text class="n g" x="773" y="426">ALCAEUS</text><text class="n g" x="773" y="433">ASTYDAMEIA</text><text class="n g" x="805" y="426">AMPHITRYON</text><text class="n g" x="805" y="433">ALCMENE</text><text class="n g" x="773" y="443">ELECTRYON</text><text class="n g" x="838" y="420">IPHICLES</text><text class="n g" x="872" y="420">IOLAUS</text>
<text class="n g" x="872" y="402">ACRISIUS</text><text class="n g" x="903" y="402">DANAE</text><text class="n r" x="903" y="409">ZEUS</text><text class="n g" x="935" y="402">PERSEUS</text><text class="n g" x="935" y="408">ANDROMEDA</text>
<text class="bl" x="838" y="432"><tspan x="838">Zeus, in the form</tspan><tspan x="838" dy="4.2">of Amphitryon,</tspan><tspan x="838" dy="4.2">fathered Heracles</tspan><tspan x="838" dy="4.2">with Alcmene.</tspan></text>
<text class="d" x="935" y="414"><tspan x="935">Daughter of</tspan><tspan x="935" dy="4.2">Cassiopeia, she</tspan><tspan x="935" dy="4.2">was sacrificed to</tspan><tspan x="935" dy="4.2">a sea monster.</tspan></text>
<text class="d" x="773" y="449"><tspan x="773">King of Mycenae,</tspan><tspan x="773" dy="4.2">father of Alcmene.</tspan></text>
<text class="d" x="872" y="426"><tspan x="872">A companion</tspan><tspan x="872" dy="4.2">of Heracles.</tspan></text></g>
<g id="heracles"><text class="n2 g" x="838" y="456">HERACLES</text><text class="d" x="838" y="462"><tspan x="838">The greatest</tspan><tspan x="838" dy="4.2">Greek hero; because</tspan><tspan x="838" dy="4.2">of Hera's</tspan><tspan x="838" dy="4.2">persecution he</tspan><tspan x="838" dy="4.2">completed the</tspan><tspan x="838" dy="4.2">Twelve Labours.</tspan></text>
<text class="n g" x="872" y="447">IOLE</text><text class="n g" x="872" y="463">DEIANIRA</text><text class="n g" x="905" y="463">HYLLUS</text><text class="n g" x="872" y="488">AUGE</text><text class="n g" x="905" y="488">TELEPHUS</text><text class="n g" x="938" y="472">HIERA</text><text class="n g" x="938" y="502">ASTYOCHE</text><text class="n g" x="872" y="512">MEGARA</text>
<text class="d" x="905" y="494"><tspan x="905">Wounded by</tspan><tspan x="905" dy="4.2">Achilles, he was</tspan><tspan x="905" dy="4.2">later healed by</tspan><tspan x="905" dy="4.2">the hero himself.</tspan></text>
<text class="d" x="938" y="508">Sister of Priam.</text>
<text class="d" x="938" y="478"><tspan x="938">She fought the</tspan><tspan x="938" dy="4.2">Greeks in Mysia.</tspan></text>
<text class="d" x="905" y="469"><tspan x="905">He died trying</tspan><tspan x="905" dy="4.2">to return to the</tspan><tspan x="905" dy="4.2">Peloponnese.</tspan></text>
<text class="d" x="872" y="518"><tspan x="872">Heracles, in a</tspan><tspan x="872" dy="4.2">fit of madness,</tspan><tspan x="872" dy="4.2">killed her</tspan><tspan x="872" dy="4.2">children.</tspan></text></g>
<g id="theseus2"><text class="n g" x="750" y="494">CECROPS</text><text class="n g" x="785" y="494">PANDION</text><text class="n g" x="805" y="494">AEGEUS</text><text class="n g" x="805" y="501">AETHRA</text><text class="n2 g" x="840" y="495">THESEUS</text><text class="n g" x="785" y="513">ION</text>
<text class="d" x="840" y="501"><tspan x="840">Athenian hero,</tspan><tspan x="840" dy="4.2">slayer of the</tspan><tspan x="840" dy="4.2">Minotaur.</tspan></text></g>
<g id="laomedon-children"><text class="n g" x="805" y="518">CLYTIUS</text><text class="n g" x="805" y="528">HESIONE</text><text class="n g" x="805" y="534">TELAMON</text><text class="n g" x="840" y="528">TEUCER</text><text class="n g" x="805" y="547">HIKETAON</text><text class="n g" x="805" y="560">CILLA</text><text class="n g" x="840" y="560">MUNIPPUS</text><text class="n g" x="805" y="574">LAMPUS</text><text class="n g" x="805" y="586">ASTYOCHE</text><text class="n g" x="800" y="602">PRIAM</text><text class="n g" x="800" y="610">HECUBA</text><text class="n g" x="800" y="621">TITHONUS</text>
<text class="d" x="840" y="534"><tspan x="840">Heracles rescued</tspan><tspan x="840" dy="4.2">Hesione from</tspan><tspan x="840" dy="4.2">a sea monster.</tspan></text>
<text class="d" x="840" y="566"><tspan x="840">Priam's son,</tspan><tspan x="840" dy="4.2">killed at birth.</tspan></text></g>
<g id="priam-children"><text class="n g" x="870" y="548">HECTOR</text><text class="n g" x="870" y="555">ANDROMACHE</text><text class="n g" x="903" y="548">ASTYANAX</text><text class="n g" x="935" y="564">DEIPHOBUS</text><text class="n g" x="870" y="573">CASSANDRA</text><text class="n g" x="868" y="598">PARIS</text><text class="n g" x="900" y="593">HELENUS</text>
<text class="d" x="903" y="554"><tspan x="903">The Greeks threw</tspan><tspan x="903" dy="4.2">Astyanax from</tspan><tspan x="903" dy="4.2">the walls of Troy.</tspan></text>
<text class="d" x="870" y="579"><tspan x="870">A prophetess</tspan><tspan x="870" dy="4.2">destined never</tspan><tspan x="870" dy="4.2">to be believed.</tspan></text>
<text class="d" x="868" y="604"><tspan x="868">His judgement</tspan><tspan x="868" dy="4.2">awarded Aphrodite</tspan><tspan x="868" dy="4.2">the prize, who</tspan><tspan x="868" dy="4.2">promised him</tspan><tspan x="868" dy="4.2">Helen.</tspan></text>
<text class="d" x="900" y="599"><tspan x="900">A famous</tspan><tspan x="900" dy="4.2">soothsayer, twin</tspan><tspan x="900" dy="4.2">of Cassandra.</tspan></text>
<text class="d" x="935" y="570"><tspan x="935">A Trojan hero</tspan><tspan x="935" dy="4.2">and victim of</tspan><tspan x="935" dy="4.2">Helen's treachery.</tspan></text></g>
<g id="aeneas"><text class="n g" x="765" y="640">ANCHISES</text><text class="n r" x="765" y="647">APHRODITE</text><text class="n g" x="830" y="640">AENEAS</text><text class="d" x="830" y="646"><tspan x="830">A Trojan prince</tspan><tspan x="830" dy="4.2">who survived the</tspan><tspan x="830" dy="4.2">destruction of</tspan><tspan x="830" dy="4.2">the city.</tspan></text>
<text class="bl" x="768" y="595"><tspan x="768">Aphrodite,</tspan><tspan x="768" dy="4.2">disguised as a</tspan><tspan x="768" dy="4.2">Phrygian princess,</tspan><tspan x="768" dy="4.2">lay with Anchises.</tspan></text></g>
<g id="aeneid"><text class="kb" x="930" y="640" font-size="4.4">AENEID</text><text class="kb" x="930" y="646"><tspan x="930">In the Aeneid,</tspan><tspan x="930" dy="4.2">Virgil tells how</tspan><tspan x="930" dy="4.2">Aeneas, fleeing</tspan><tspan x="930" dy="4.2">Troy, reached</tspan><tspan x="930" dy="4.2">the Roman lands.</tspan></text></g>
<g id="ascanius"><text class="n g" x="842" y="827">ASCANIUS</text><text class="d" transform="translate(842,833) skewX(-8)"><tspan x="0">He ruled over</tspan><tspan x="0" dy="4.2">Lavinium and</tspan><tspan x="0" dy="4.2">founded</tspan><tspan x="0" dy="4.2">Alba Longa.</tspan></text></g>

<g id="iapetids"><text class="n r" x="282" y="758">ZELOS</text><text class="n r" x="278" y="774">KRATOS</text><text class="n r" x="275" y="792">NIKE</text><text class="n r" x="265" y="822">BIAS</text>
<text class="d" x="282" y="764">Rivalry.</text><text class="d" x="278" y="780">Supreme strength.</text><text class="d" x="275" y="798">Triumphant victory.</text><text class="d" x="265" y="828">Overwhelming violence.</text>
<text class="n r" x="380" y="756">HESPERIS</text><text class="n r" x="347" y="768">HESPERUS</text><text class="n r" x="378" y="768">HESPERIS</text>
<text class="n r" x="341" y="793">EPIMETHEUS</text><text class="n r" x="341" y="800">PANDORA</text><text class="n g" x="373" y="793">PYRRHA</text>
<text class="n r" x="325" y="850">PROMETHEUS</text><text class="n g" x="357" y="850">DEUCALION</text><text class="n g" x="357" y="857">PYRRHA</text>
<text class="d" transform="translate(341,806) skewX(-15)"><tspan x="0">Pandora, the first</tspan><tspan x="0" dy="4.2">woman, created</tspan><tspan x="0" dy="4.2">by Hephaestus.</tspan></text>
<text class="d" transform="translate(325,856) skewX(-15)"><tspan x="0">Prometheus stole</tspan><tspan x="0" dy="4.2">fire from the gods</tspan><tspan x="0" dy="4.2">and gave it to men,</tspan><tspan x="0" dy="4.2">suffering the</tspan><tspan x="0" dy="4.2">punishment</tspan><tspan x="0" dy="4.2">of Zeus.</tspan></text>
<text class="d" transform="translate(358,863) skewX(-15)"><tspan x="0">The only survivors</tspan><tspan x="0" dy="4.2">of the flood sent</tspan><tspan x="0" dy="4.2">by Zeus, they</tspan><tspan x="0" dy="4.2">repopulated</tspan><tspan x="0" dy="4.2">the earth.</tspan></text>
<text class="d" transform="translate(347,774) skewX(-15)"><tspan x="0">He gave his</tspan><tspan x="0" dy="4.2">name to the</tspan><tspan x="0" dy="4.2">evening star.</tspan></text></g>
<g id="atlas"><text class="n r" x="372" y="698">ATLAS</text><text class="n r" x="372" y="705">PLEIONE</text><text class="d" transform="translate(372,711) skewX(-12)"><tspan x="0">Condemned to</tspan><tspan x="0" dy="4.2">hold up the vault</tspan><tspan x="0" dy="4.2">of the sky.</tspan></text></g>
<g id="hyades"><text class="n r" x="470" y="700">HYADES:</text><text class="n r" x="470" y="707">AMBROSIA</text><text class="n r" x="469" y="714">EUDORA</text><text class="n r" x="468" y="721">PHAISYLE</text><text class="n r" x="467" y="728">CORONIS</text><text class="d" transform="translate(467,734) skewX(-12)"><tspan x="0">Nymphs of rain,</tspan><tspan x="0" dy="4.2">nurses of</tspan><tspan x="0" dy="4.2">Dionysus.</tspan></text></g>
<g id="calypso"><text class="n r" x="455" y="745">CALYPSO</text><text class="d" transform="translate(455,751) skewX(-12)"><tspan x="0">The nymph who</tspan><tspan x="0" dy="4.2">held Odysseus</tspan><tspan x="0" dy="4.2">for seven years.</tspan></text></g>
<g id="centre-bottom-notes"><text class="kb" x="262" y="840" font-size="4.4">MONSTERS</text><text class="kb" transform="translate(262,846) skewX(-15)"><tspan x="0">Whatever form</tspan><tspan x="0" dy="4.2">they take,</tspan><tspan x="0" dy="4.2">monsters in Greek</tspan><tspan x="0" dy="4.2">myth are often</tspan><tspan x="0" dy="4.2">the offspring of</tspan><tspan x="0" dy="4.2">Typhoeus and</tspan><tspan x="0" dy="4.2">Echidna.</tspan></text>
<text class="kb" x="295" y="840" font-size="4.4">CENTAURS</text><text class="kb" transform="translate(295,846) skewX(-15)"><tspan x="0">Violent creatures</tspan><tspan x="0" dy="4.2">with human torso</tspan><tspan x="0" dy="4.2">and horse body,</tspan><tspan x="0" dy="4.2">born from Ixion</tspan><tspan x="0" dy="4.2">and a cloud.</tspan></text></g>
<g id="crius2"><text class="n r" x="268" y="920">CRIUS</text><text class="n r" x="268" y="927">EURYBIA</text><text class="n r" x="303" y="914">ASTRAEUS</text><text class="n r" x="297" y="934">PALLANTION</text><text class="n r" x="290" y="952">PERSE</text>
<text class="d" transform="translate(268,933) skewX(-15)"><tspan x="0">Eurybia was the</tspan><tspan x="0" dy="4.2">daughter of</tspan><tspan x="0" dy="4.2">Pontus and Gaia.</tspan></text>
<text class="d" transform="translate(303,920) skewX(-15)"><tspan x="0">With Eos, he</tspan><tspan x="0" dy="4.2">fathered the winds.</tspan></text>
<text class="d" transform="translate(290,958) skewX(-15)"><tspan x="0">He was the titan</tspan><tspan x="0" dy="4.2">of destruction.</tspan></text></g>
<g id="hellenes"><text class="n g" x="410" y="778">PROTOGENEIA</text><text class="n r" x="410" y="785">ZEUS</text><text class="n g" x="400" y="813">HELLEN</text><text class="n g" x="400" y="819">ORSEIS</text><text class="n g" x="390" y="853">AMPHICTYON</text><text class="n g" x="445" y="764">OPUS</text><text class="n g" x="440" y="788">AETHLIUS</text>
<text class="n g" x="430" y="826">CECROPIDES:</text><text class="n g" x="430" y="833">AGLAUROS</text><text class="n g" x="430" y="840">PANDROSOS</text><text class="n g" x="430" y="847">HERSE</text>
<text class="n g" x="377" y="895">CECROPS</text><text class="n g" x="377" y="902">AGRAULUS</text><text class="n g" x="402" y="914">ERYSICHTHON</text><text class="n g" x="390" y="943">CRANAUS</text><text class="n g" x="423" y="943">CRANAE</text><text class="n g" x="423" y="950">AMPHICTYON</text>
<text class="n g" x="455" y="850">AEOLUS</text><text class="n g" x="455" y="857">ENARETE</text><text class="n g" x="473" y="897">CRETHEUS</text><text class="n g" x="473" y="903">TYRO</text><text class="n g" x="462" y="932">SALMONEUS</text>
<text class="d" transform="translate(400,825) skewX(-15)"><tspan x="0">Hellen gave his</tspan><tspan x="0" dy="4.2">name to the</tspan><tspan x="0" dy="4.2">Greeks.</tspan></text>
<text class="d" transform="translate(377,908) skewX(-15)"><tspan x="0">Cecrops, first</tspan><tspan x="0" dy="4.2">king of Athens,</tspan><tspan x="0" dy="4.2">half man and</tspan><tspan x="0" dy="4.2">half snake.</tspan></text>
<text class="d" transform="translate(390,949) skewX(-15)"><tspan x="0">He followed his</tspan><tspan x="0" dy="4.2">father on the</tspan><tspan x="0" dy="4.2">throne of Athens.</tspan></text>
<text class="d" transform="translate(455,863) skewX(-15)"><tspan x="0">According to</tspan><tspan x="0" dy="4.2">some, he was</tspan><tspan x="0" dy="4.2">the founder of</tspan><tspan x="0" dy="4.2">the Aeolian race.</tspan></text>
<text class="d" transform="translate(462,938) skewX(-15)"><tspan x="0">He imitated</tspan><tspan x="0" dy="4.2">Zeus' thunder</tspan><tspan x="0" dy="4.2">and was struck</tspan><tspan x="0" dy="4.2">by lightning.</tspan></text>
<text class="d" transform="translate(430,853) skewX(-15)"><tspan x="0">They guarded</tspan><tspan x="0" dy="4.2">the basket of</tspan><tspan x="0" dy="4.2">Erichthonius.</tspan></text></g>
<g id="aeolids"><text class="n g" x="515" y="812">SISYPHUS</text><text class="n r" x="515" y="819">MEROPE</text><text class="n g" x="548" y="808">GLAUCUS</text><text class="n g" x="490" y="855">ATHAMAS</text><text class="n r" x="490" y="862">NEPHELE</text><text class="n g" x="523" y="872">PHRIXUS</text><text class="n g" x="523" y="885">HELLE</text>
<text class="n g" x="500" y="915">AMYTHAON</text><text class="n g" x="530" y="915">MELAMPUS</text><text class="n g" x="556" y="915">BIAS</text><text class="n g" x="497" y="935">AESON</text><text class="n g" x="525" y="935">JASON</text><text class="n r" x="525" y="942">MEDEA</text><text class="n g" x="493" y="955">PHERES</text><text class="n g" x="522" y="955">ADMETUS</text><text class="n g" x="522" y="962">ALCESTIS</text><text class="n g" x="470" y="985">PELIAS</text>
<text class="d" transform="translate(515,825) skewX(-15)"><tspan x="0">Condemned to roll</tspan><tspan x="0" dy="4.2">a boulder up a hill</tspan><tspan x="0" dy="4.2">for eternity.</tspan></text>
<text class="d" transform="translate(523,891) skewX(-15)"><tspan x="0">She fell into the</tspan><tspan x="0" dy="4.2">sea, which took</tspan><tspan x="0" dy="4.2">her name.</tspan></text>
<text class="d" transform="translate(530,921) skewX(-15)"><tspan x="0">A famous seer.</tspan></text>
<text class="d" transform="translate(525,948) skewX(-15)"><tspan x="0">Leader of the</tspan><tspan x="0" dy="4.2">Argonauts.</tspan></text>
<text class="d" transform="translate(522,968) skewX(-15)"><tspan x="0">She offered her</tspan><tspan x="0" dy="4.2">life for her husband.</tspan></text>
<text class="d" transform="translate(470,991) skewX(-15)"><tspan x="0">He usurped the throne of Iolcus.</tspan></text></g>
<g id="aetolians"><text class="n g" x="550" y="698">AETOLUS</text><text class="n g" x="590" y="715">PLEURON</text><text class="n g" x="620" y="730">AGENOR</text><text class="n g" x="650" y="745">PORTHAON</text><text class="n g" x="620" y="765">THESTIUS</text><text class="n g" x="680" y="760">OENEUS</text><text class="n g" x="680" y="767">ALTHAEA</text><text class="n g" x="710" y="780">TYDEUS</text><text class="n g" x="710" y="795">MELEAGER</text>
<text class="d" transform="translate(550,704) skewX(-10)"><tspan x="0">He gave his</tspan><tspan x="0" dy="4.2">name to Aetolia.</tspan></text>
<text class="d" transform="translate(680,773) skewX(-10)"><tspan x="0">King of Calydon.</tspan></text>
<text class="d" transform="translate(710,801) skewX(-10)"><tspan x="0">Hero of the</tspan><tspan x="0" dy="4.2">Calydonian</tspan><tspan x="0" dy="4.2">boar hunt.</tspan></text>
<text class="d" transform="translate(710,786) skewX(-10)"><tspan x="0">One of the Seven.</tspan></text></g>
<g id="argives"><text class="n g" x="700" y="848">TALAUS</text><text class="n g" x="670" y="878">AMPHIARAUS</text><text class="n g" x="706" y="878">ERIPHYLE</text><text class="n g" x="690" y="905">ALCMAEON</text><text class="n g" x="600" y="953">NESTOR</text><text class="n g" x="630" y="953">ANTILOCHUS</text><text class="n g" x="622" y="970">HIPPOTHOE</text><text class="n g" x="612" y="985">PISIDICE</text>
<text class="d" transform="translate(670,884) skewX(-12)"><tspan x="0">A seer, one of</tspan><tspan x="0" dy="4.2">the Seven against</tspan><tspan x="0" dy="4.2">Thebes.</tspan></text>
<text class="d" transform="translate(600,959) skewX(-12)"><tspan x="0">The wise old</tspan><tspan x="0" dy="4.2">king of Pylos.</tspan></text>
<text class="d" transform="translate(690,911) skewX(-12)"><tspan x="0">He killed his</tspan><tspan x="0" dy="4.2">mother Eriphyle.</tspan></text></g>

<g id="bottom-right"><text class="n g" x="752" y="762">POLYCASTE</text><text class="n g" x="775" y="770">BELLEROPHON</text><text class="n g" x="775" y="777">PHILONOE</text><text class="n g" x="812" y="760">ISANDER</text><text class="n g" x="807" y="770">HIPPOLOCHUS</text><text class="n g" x="840" y="770">GLAUCUS</text><text class="n g" x="808" y="799">LAODAMIA</text><text class="n r" x="808" y="807">ZEUS</text><text class="n g" x="838" y="799">SARPEDON</text><text class="n g" x="822" y="833">DEIPYLE</text><text class="n g" x="788" y="840">ARGIA</text><text class="n g" x="783" y="857">AEGIALE</text><text class="n g" x="750" y="860">ADRASTUS</text><text class="n g" x="778" y="877">AEGIALEUS</text><text class="n g" x="800" y="907">HIPPODAMIA</text><text class="n g" x="765" y="945">LAODAMIA</text><text class="n g" x="765" y="952">PROTESILAUS</text>
<text class="d" transform="translate(775,783) skewX(-10)"><tspan x="0">Greece, Sicily and</tspan><tspan x="0" dy="4.2">Lycia were ruled</tspan><tspan x="0" dy="4.2">by his heirs.</tspan></text>
<text class="d" transform="translate(838,805) skewX(-10)"><tspan x="0">King of Lycia, he</tspan><tspan x="0" dy="4.2">died at Troy.</tspan></text>
<text class="d" transform="translate(822,839) skewX(-10)"><tspan x="0">She married</tspan><tspan x="0" dy="4.2">Tydeus.</tspan></text>
<text class="d" transform="translate(788,846) skewX(-10)">Wife of Polynices.</text>
<text class="d" transform="translate(750,866) skewX(-10)"><tspan x="0">King of Argos, the</tspan><tspan x="0" dy="4.2">only survivor of</tspan><tspan x="0" dy="4.2">the Seven.</tspan></text>
<text class="d" transform="translate(778,883) skewX(-10)"><tspan x="0">One of the</tspan><tspan x="0" dy="4.2">Epigoni, he died</tspan><tspan x="0" dy="4.2">at Thebes.</tspan></text>
<text class="d" transform="translate(800,913) skewX(-10)"><tspan x="0">She married</tspan><tspan x="0" dy="4.2">Pirithous.</tspan></text>
<text class="d" transform="translate(765,958) skewX(-10)"><tspan x="0">Laodamia, a</tspan><tspan x="0" dy="4.2">loving wife, asked</tspan><tspan x="0" dy="4.2">the gods for her</tspan><tspan x="0" dy="4.2">husband's return.</tspan></text></g>
<g id="iliad"><text class="kb" x="909" y="757" font-size="4.6">THE ILIAD</text><text class="kb" transform="translate(908,763) skewX(-15)"><tspan x="0">The Iliad, a poem</tspan><tspan x="0" dy="4.2">traditionally</tspan><tspan x="0" dy="4.2">attributed to Homer,</tspan><tspan x="0" dy="4.2">recounts the events</tspan><tspan x="0" dy="4.2">that took place over</tspan><tspan x="0" dy="4.2">fifty-one days in</tspan><tspan x="0" dy="4.2">the last year of the</tspan><tspan x="0" dy="4.2">Trojan War. The</tspan><tspan x="0" dy="4.2">ten-year siege of</tspan><tspan x="0" dy="4.2">the Trojan city by</tspan><tspan x="0" dy="4.2">the Greek army</tspan><tspan x="0" dy="4.2">involved all the</tspan><tspan x="0" dy="4.2">most famous</tspan><tspan x="0" dy="4.2">heroes and leaders</tspan><tspan x="0" dy="4.2">of antiquity, led</tspan><tspan x="0" dy="4.2">by the king</tspan><tspan x="0" dy="4.2">Agamemnon. The</tspan><tspan x="0" dy="4.2">cause of the</tspan><tspan x="0" dy="4.2">dispute was</tspan><tspan x="0" dy="4.2">the abduction</tspan><tspan x="0" dy="4.2">of the beautiful</tspan><tspan x="0" dy="4.2">Helen, wife of</tspan><tspan x="0" dy="4.2">Agamemnon's</tspan><tspan x="0" dy="4.2">brother Menelaus,</tspan><tspan x="0" dy="4.2">by the young</tspan><tspan x="0" dy="4.2">Trojan prince,</tspan><tspan x="0" dy="4.2">Paris. However,</tspan><tspan x="0" dy="4.2">the conflict had</tspan><tspan x="0" dy="4.2">divine origins:</tspan><tspan x="0" dy="4.2">the anger of Eris</tspan><tspan x="0" dy="4.2">towards the other</tspan><tspan x="0" dy="4.2">gods, the beauty</tspan><tspan x="0" dy="4.2">contest between</tspan><tspan x="0" dy="4.2">Hera, Aphrodite</tspan><tspan x="0" dy="4.2">and Athena, and</tspan><tspan x="0" dy="4.2">the judgement</tspan><tspan x="0" dy="4.2">of Paris; and the</tspan><tspan x="0" dy="4.2">need felt by Zeus</tspan><tspan x="0" dy="4.2">to relieve the Earth</tspan><tspan x="0" dy="4.2">of the burden of</tspan><tspan x="0" dy="4.2">the great number</tspan><tspan x="0" dy="4.2">of men who lived</tspan><tspan x="0" dy="4.2">there.</tspan></text></g>
<g id="odyssey"><text class="kb" x="868" y="795" font-size="4.6">THE ODYSSEY</text><text class="kb" transform="translate(868,801) skewX(-12)"><tspan x="0">The Odyssey is</tspan><tspan x="0" dy="4.2">one of two Greek</tspan><tspan x="0" dy="4.2">epic poems</tspan><tspan x="0" dy="4.2">attributed to</tspan><tspan x="0" dy="4.2">Homer. In the</tspan><tspan x="0" dy="4.2">Odyssey, the poet</tspan><tspan x="0" dy="4.2">recounts the many</tspan><tspan x="0" dy="4.2">adventures of</tspan><tspan x="0" dy="4.2">Odysseus as he</tspan><tspan x="0" dy="4.2">wandered around</tspan><tspan x="0" dy="4.2">the Mediterranean</tspan><tspan x="0" dy="4.2">during the ten</tspan><tspan x="0" dy="4.2">long years of his</tspan><tspan x="0" dy="4.2">journey home</tspan><tspan x="0" dy="4.2">from Troy. The</tspan><tspan x="0" dy="4.2">work was</tspan><tspan x="0" dy="4.2">presumably</tspan><tspan x="0" dy="4.2">composed in Ionia</tspan><tspan x="0" dy="4.2">in Asia Minor</tspan><tspan x="0" dy="4.2">around the 8th</tspan><tspan x="0" dy="4.2">century BC.</tspan></text></g>
</g>

<g id="legend">
<text x="983" y="19" text-anchor="end" font-family="Liberation Sans,Arial,sans-serif"><tspan font-size="4.6" fill="#a8a8a8">For a better understanding of the </tspan><tspan font-size="8.6" font-weight="700" fill="#f0a02e">LEGEND</tspan></text>
<text class="leg" x="983" y="27"><tspan x="983">genealogical twists and connections among the</tspan><tspan x="983" dy="6.3">events, various graphical decisions were made.</tspan><tspan x="983" dy="6.3">A thin red line traces all the genealogical lines</tspan><tspan x="983" dy="6.3">branching out from Gaia in concentric circles.</tspan><tspan x="983" dy="6.3">Red dots highlight the beginning of the different</tspan><tspan x="983" dy="6.3">genealogical branches. The 'title' indicates</tspan><tspan x="983" dy="6.3">every type of union. It represents not only</tspan><tspan x="983" dy="6.3">conjugal ties, but also amorous encounters,</tspan><tspan x="983" dy="6.3">illicit copulations, and ambiguous unions</tspan><tspan x="983" dy="6.3">between gods and humans. A character</tspan><tspan x="983" dy="6.3">without a title is the child of the previous</tspan><tspan x="983" dy="6.3">character along the genealogical thread.</tspan><tspan x="983" dy="6.3">The 'title' usually accompanies pairs of</tspan><tspan x="983" dy="6.3">characters. The first name represents</tspan><tspan x="983" dy="6.3">the continuation of the genealogical</tspan><tspan x="983" dy="6.3">thread, the child of the preceding</tspan><tspan x="983" dy="6.3">character. The second name is the</tspan><tspan x="983" dy="6.3">partner, who generally comes from</tspan><tspan x="983" dy="6.3">another genealogical branch on</tspan><tspan x="983" dy="6.3">the map. When a character</tspan><tspan x="983" dy="6.3">(e.g. Zeus) is part of several</tspan><tspan x="983" dy="6.3">love relationships, significant</tspan><tspan x="983" dy="6.3">for the lineage, only the</tspan><tspan x="983" dy="6.3">relatives are indicated by</tspan><tspan x="983" dy="6.3">the 'title' sign to clarify</tspan><tspan x="983" dy="6.3">the type of relationship</tspan><tspan x="983" dy="6.3">that ties them to the</tspan><tspan x="983" dy="6.3">preceding character.</tspan></text>
<text class="leg2" x="983" y="762"><tspan x="983">The</tspan><tspan x="983" dy="6.25">colours</tspan><tspan x="983" dy="6.25">allowed us</tspan><tspan x="983" dy="6.25">to make further</tspan><tspan x="983" dy="6.25">distinctions. Three</tspan><tspan x="983" dy="6.25">main colours are used</tspan><tspan x="983" dy="6.25">to differentiate the</tspan><tspan x="983" dy="6.25">mythological characters:</tspan><tspan x="983" dy="6.25">DEITIES,</tspan><tspan x="983" dy="6.25">HEROES and HUMANS,</tspan><tspan x="983" dy="6.25">MONSTERS and</tspan><tspan x="983" dy="6.25">all fantastic or sacred beings.</tspan><tspan x="983" dy="6.25">Some HEROES appear</tspan><tspan x="983" dy="6.25">in red. They are of the union</tspan><tspan x="983" dy="6.25">of gods and humans, the</tspan><tspan x="983" dy="6.25">boundary for them between</tspan><tspan x="983" dy="6.25">divine and human is often</tspan><tspan x="983" dy="6.25">imperceptible. Finally, texts were</tspan><tspan x="983" dy="6.25">included concerning the main</tspan><tspan x="983" dy="6.25">mythological events that involved and</tspan><tspan x="983" dy="6.25">disrupted all the genealogical branches,</tspan><tspan x="983" dy="6.25">along with minor characters, such as</tspan><tspan x="983" dy="6.25">nymphs and satyrs, who formed an</tspan><tspan x="983" dy="6.25">abundant part of the mythological world.</tspan><tspan x="983" dy="6.25">Finally, we have used yellow to highlight the</tspan><tspan x="983" dy="6.25">major genealogical branches. To reconstruct the</tspan><tspan x="983" dy="6.25">vast genealogical tree of Greek mythology, we</tspan><tspan x="983" dy="6.25">have unfortunately sacrificed much of the</tspan><tspan x="983" dy="6.25">anecdotal and narrative part, but it was important</tspan><tspan x="983" dy="6.25">for us to present the wonderful spectacle of the</tspan><tspan x="983" dy="6.25">origins and inception of the founders of our civilisation</tspan><tspan x="983" dy="6.25">in a unique view with the most articulate form possible.</tspan></text>
<circle cx="958" cy="811" r="2.6" fill="#b3121c"/><circle cx="940" cy="817" r="2.6" fill="#1f5a3a"/><circle cx="952" cy="823" r="2.6" fill="#7a4a30"/>
<text x="983" y="966" text-anchor="end" font-family="Liberation Sans,Arial,sans-serif" font-size="2.9" fill="#222"><tspan x="983" font-weight="700">GREEK MYTHOLOGY © 2022 | ONTOLOGIA GRECA first edition 1998 ©</tspan><tspan x="983" dy="4">Art Direction: Giorgio Lupattelli | Concept and content curated by Massimo Bertoldi</tspan><tspan x="983" dy="4">Text by Fabio Pieracciotti | Graphics by Maurizio Bertoldi</tspan><tspan x="983" dy="4">Reproduction rights reserved | www.greekmythology.info</tspan></text>
</g>
</svg>
